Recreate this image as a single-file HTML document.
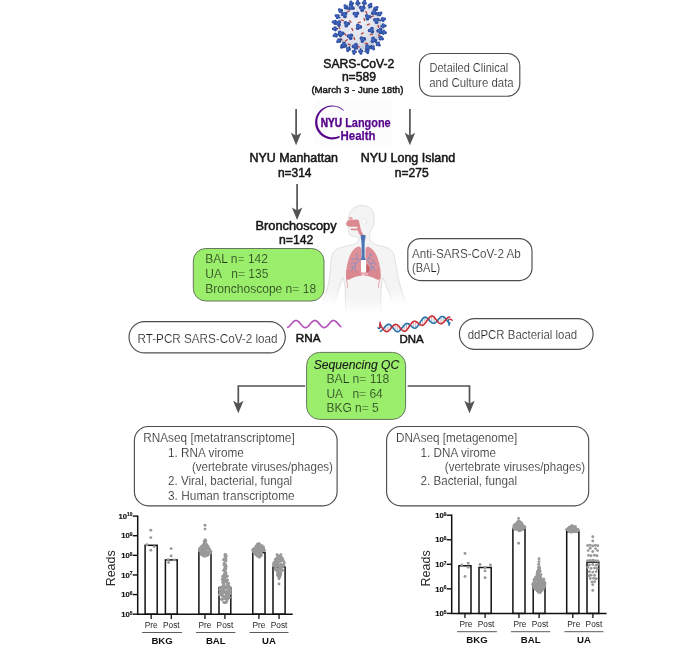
<!DOCTYPE html>
<html lang="en"><head><meta charset="utf-8"><title>Study design</title>
<style>html,body{margin:0;padding:0;background:#fff}body{width:700px;height:650px;overflow:hidden}svg{display:block;will-change:transform}text{white-space:pre}</style>
</head><body>
<svg width="700" height="650" viewBox="0 0 700 650" font-family='"Liberation Sans", sans-serif'>
<rect width="700" height="650" fill="#fff"/>
<g>
<defs><radialGradient id="vg" cx="42%" cy="38%" r="70%"><stop offset="0" stop-color="#f0f1f7"/><stop offset="0.6" stop-color="#dfe2ec"/><stop offset="1" stop-color="#bcc2d4"/></radialGradient></defs>
<circle cx="359.3" cy="27.4" r="22.8" fill="url(#vg)"/>
<rect x="346.6" y="10.75" width="3.4" height="1.3" rx="0.6" fill="#b4463e" transform="rotate(-30 348.3 11.4)"/>
<rect x="354.6" y="14.75" width="3.4" height="1.3" rx="0.6" fill="#b4463e" transform="rotate(40 356.3 15.4)"/>
<rect x="364.6" y="11.75" width="3.4" height="1.3" rx="0.6" fill="#b4463e" transform="rotate(60 366.3 12.4)"/>
<rect x="370.6" y="15.75" width="3.4" height="1.3" rx="0.6" fill="#b4463e" transform="rotate(-25 372.3 16.4)"/>
<rect x="340.6" y="19.75" width="3.4" height="1.3" rx="0.6" fill="#b4463e" transform="rotate(10 342.3 20.4)"/>
<rect x="348.6" y="20.75" width="3.4" height="1.3" rx="0.6" fill="#b4463e" transform="rotate(45 350.3 21.4)"/>
<rect x="357.6" y="21.75" width="3.4" height="1.3" rx="0.6" fill="#b4463e" transform="rotate(-10 359.3 22.4)"/>
<rect x="366.6" y="23.75" width="3.4" height="1.3" rx="0.6" fill="#b4463e" transform="rotate(-20 368.3 24.4)"/>
<rect x="376.6" y="25.75" width="3.4" height="1.3" rx="0.6" fill="#b4463e" transform="rotate(80 378.3 26.4)"/>
<rect x="337.6" y="26.75" width="3.4" height="1.3" rx="0.6" fill="#b4463e" transform="rotate(70 339.3 27.4)"/>
<rect x="350.6" y="28.75" width="3.4" height="1.3" rx="0.6" fill="#b4463e" transform="rotate(60 352.3 29.4)"/>
<rect x="360.6" y="32.75" width="3.4" height="1.3" rx="0.6" fill="#b4463e" transform="rotate(-30 362.3 33.4)"/>
<rect x="369.6" y="33.75" width="3.4" height="1.3" rx="0.6" fill="#b4463e" transform="rotate(-10 371.3 34.4)"/>
<rect x="343.6" y="33.75" width="3.4" height="1.3" rx="0.6" fill="#b4463e" transform="rotate(50 345.3 34.4)"/>
<rect x="352.6" y="37.75" width="3.4" height="1.3" rx="0.6" fill="#b4463e" transform="rotate(75 354.3 38.4)"/>
<rect x="364.6" y="42.75" width="3.4" height="1.3" rx="0.6" fill="#b4463e" transform="rotate(0 366.3 43.4)"/>
<rect x="347.6" y="43.75" width="3.4" height="1.3" rx="0.6" fill="#b4463e" transform="rotate(20 349.3 44.4)"/>
<rect x="356.6" y="45.75" width="3.4" height="1.3" rx="0.6" fill="#b4463e" transform="rotate(35 358.3 46.4)"/>
<rect x="373.6" y="40.75" width="3.4" height="1.3" rx="0.6" fill="#b4463e" transform="rotate(60 375.3 41.4)"/>
<rect x="339.6" y="38.75" width="3.4" height="1.3" rx="0.6" fill="#b4463e" transform="rotate(40 341.3 39.4)"/>
<rect x="359.6" y="7.75" width="3.4" height="1.3" rx="0.6" fill="#b4463e" transform="rotate(20 361.3 8.4)"/>
<rect x="373.6" y="18.75" width="3.4" height="1.3" rx="0.6" fill="#b4463e" transform="rotate(-30 375.3 19.4)"/>
<rect x="351.6" y="7.75" width="3.4" height="1.3" rx="0.6" fill="#b4463e" transform="rotate(10 353.3 8.4)"/>
<rect x="377.6" y="34.75" width="3.4" height="1.3" rx="0.6" fill="#b4463e" transform="rotate(50 379.3 35.4)"/>
<rect x="344.6" y="39.75" width="3.4" height="1.3" rx="0.6" fill="#b4463e" transform="rotate(-40 346.3 40.4)"/>
<rect x="362.6" y="18.75" width="3.4" height="1.3" rx="0.6" fill="#b4463e" transform="rotate(70 364.3 19.4)"/>
<path d="M357.99 5.64L357.82 2.74" stroke="#2b4690" stroke-width="1.6" stroke-linecap="round"/>
<circle cx="357.74" cy="1.41" r="1.46" fill="#2f4f9f"/>
<circle cx="359.01" cy="3.34" r="1.46" fill="#2f4f9f"/>
<circle cx="356.71" cy="3.48" r="1.46" fill="#2f4f9f"/>
<circle cx="357.52" cy="2.39" r="1.46" fill="#3f63b8"/>
<path d="M363.67 6.04L364.39 2.52" stroke="#2b4690" stroke-width="1.6" stroke-linecap="round"/>
<circle cx="364.66" cy="1.21" r="1.46" fill="#2f4f9f"/>
<circle cx="365.39" cy="3.4" r="1.46" fill="#2f4f9f"/>
<circle cx="363.13" cy="2.94" r="1.46" fill="#2f4f9f"/>
<circle cx="364.09" cy="2.17" r="1.46" fill="#3f63b8"/>
<path d="M369.05 7.9L370.35 5.31" stroke="#2b4690" stroke-width="1.6" stroke-linecap="round"/>
<circle cx="370.94" cy="4.11" r="1.46" fill="#2f4f9f"/>
<circle cx="371.08" cy="6.42" r="1.46" fill="#2f4f9f"/>
<circle cx="369.01" cy="5.39" r="1.46" fill="#2f4f9f"/>
<circle cx="370.05" cy="4.96" r="1.46" fill="#3f63b8"/>
<path d="M373.76 11.09L376.15 8.39" stroke="#2b4690" stroke-width="1.6" stroke-linecap="round"/>
<circle cx="377.04" cy="7.4" r="1.46" fill="#2f4f9f"/>
<circle cx="376.57" cy="9.66" r="1.46" fill="#2f4f9f"/>
<circle cx="374.85" cy="8.13" r="1.46" fill="#2f4f9f"/>
<circle cx="375.85" cy="8.04" r="1.46" fill="#3f63b8"/>
<path d="M377.49 15.39L379.91 13.79" stroke="#2b4690" stroke-width="1.6" stroke-linecap="round"/>
<circle cx="381.02" cy="13.06" r="1.46" fill="#2f4f9f"/>
<circle cx="379.99" cy="15.12" r="1.46" fill="#2f4f9f"/>
<circle cx="378.72" cy="13.19" r="1.46" fill="#2f4f9f"/>
<circle cx="379.61" cy="13.44" r="1.46" fill="#3f63b8"/>
<path d="M379.98 20.51L383.4 19.37" stroke="#2b4690" stroke-width="1.6" stroke-linecap="round"/>
<circle cx="384.66" cy="18.95" r="1.46" fill="#2f4f9f"/>
<circle cx="383.13" cy="20.67" r="1.46" fill="#2f4f9f"/>
<circle cx="382.4" cy="18.48" r="1.46" fill="#2f4f9f"/>
<circle cx="383.1" cy="19.02" r="1.46" fill="#3f63b8"/>
<path d="M381.06 26.09L383.96 25.92" stroke="#2b4690" stroke-width="1.6" stroke-linecap="round"/>
<circle cx="385.29" cy="25.84" r="1.46" fill="#2f4f9f"/>
<circle cx="383.36" cy="27.11" r="1.46" fill="#2f4f9f"/>
<circle cx="383.22" cy="24.81" r="1.46" fill="#2f4f9f"/>
<circle cx="383.66" cy="25.57" r="1.46" fill="#3f63b8"/>
<path d="M380.66 31.77L384.18 32.49" stroke="#2b4690" stroke-width="1.6" stroke-linecap="round"/>
<circle cx="385.49" cy="32.76" r="1.46" fill="#2f4f9f"/>
<circle cx="383.3" cy="33.49" r="1.46" fill="#2f4f9f"/>
<circle cx="383.76" cy="31.23" r="1.46" fill="#2f4f9f"/>
<circle cx="383.88" cy="32.14" r="1.46" fill="#3f63b8"/>
<path d="M378.8 37.15L381.39 38.45" stroke="#2b4690" stroke-width="1.6" stroke-linecap="round"/>
<circle cx="382.59" cy="39.04" r="1.46" fill="#2f4f9f"/>
<circle cx="380.28" cy="39.18" r="1.46" fill="#2f4f9f"/>
<circle cx="381.31" cy="37.11" r="1.46" fill="#2f4f9f"/>
<circle cx="381.09" cy="38.1" r="1.46" fill="#3f63b8"/>
<path d="M375.61 41.86L378.31 44.25" stroke="#2b4690" stroke-width="1.6" stroke-linecap="round"/>
<circle cx="379.3" cy="45.14" r="1.46" fill="#2f4f9f"/>
<circle cx="377.04" cy="44.67" r="1.46" fill="#2f4f9f"/>
<circle cx="378.57" cy="42.95" r="1.46" fill="#2f4f9f"/>
<circle cx="378.01" cy="43.9" r="1.46" fill="#3f63b8"/>
<path d="M371.31 45.59L372.91 48.01" stroke="#2b4690" stroke-width="1.6" stroke-linecap="round"/>
<circle cx="373.64" cy="49.12" r="1.46" fill="#2f4f9f"/>
<circle cx="371.58" cy="48.09" r="1.46" fill="#2f4f9f"/>
<circle cx="373.51" cy="46.82" r="1.46" fill="#2f4f9f"/>
<circle cx="372.61" cy="47.66" r="1.46" fill="#3f63b8"/>
<path d="M366.19 48.08L367.33 51.5" stroke="#2b4690" stroke-width="1.6" stroke-linecap="round"/>
<circle cx="367.75" cy="52.76" r="1.46" fill="#2f4f9f"/>
<circle cx="366.03" cy="51.23" r="1.46" fill="#2f4f9f"/>
<circle cx="368.22" cy="50.5" r="1.46" fill="#2f4f9f"/>
<circle cx="367.03" cy="51.15" r="1.46" fill="#3f63b8"/>
<path d="M360.61 49.16L360.78 52.06" stroke="#2b4690" stroke-width="1.6" stroke-linecap="round"/>
<circle cx="360.86" cy="53.39" r="1.46" fill="#2f4f9f"/>
<circle cx="359.59" cy="51.46" r="1.46" fill="#2f4f9f"/>
<circle cx="361.89" cy="51.32" r="1.46" fill="#2f4f9f"/>
<circle cx="360.48" cy="51.71" r="1.46" fill="#3f63b8"/>
<path d="M354.93 48.76L354.21 52.28" stroke="#2b4690" stroke-width="1.6" stroke-linecap="round"/>
<circle cx="353.94" cy="53.59" r="1.46" fill="#2f4f9f"/>
<circle cx="353.21" cy="51.4" r="1.46" fill="#2f4f9f"/>
<circle cx="355.47" cy="51.86" r="1.46" fill="#2f4f9f"/>
<circle cx="353.91" cy="51.93" r="1.46" fill="#3f63b8"/>
<path d="M349.55 46.9L348.25 49.49" stroke="#2b4690" stroke-width="1.6" stroke-linecap="round"/>
<circle cx="347.66" cy="50.69" r="1.46" fill="#2f4f9f"/>
<circle cx="347.52" cy="48.38" r="1.46" fill="#2f4f9f"/>
<circle cx="349.59" cy="49.41" r="1.46" fill="#2f4f9f"/>
<circle cx="347.95" cy="49.14" r="1.46" fill="#3f63b8"/>
<path d="M344.84 43.71L342.45 46.41" stroke="#2b4690" stroke-width="1.6" stroke-linecap="round"/>
<circle cx="341.56" cy="47.4" r="1.46" fill="#2f4f9f"/>
<circle cx="342.03" cy="45.14" r="1.46" fill="#2f4f9f"/>
<circle cx="343.75" cy="46.67" r="1.46" fill="#2f4f9f"/>
<circle cx="342.15" cy="46.06" r="1.46" fill="#3f63b8"/>
<path d="M341.11 39.41L338.69 41.01" stroke="#2b4690" stroke-width="1.6" stroke-linecap="round"/>
<circle cx="337.58" cy="41.74" r="1.46" fill="#2f4f9f"/>
<circle cx="338.61" cy="39.68" r="1.46" fill="#2f4f9f"/>
<circle cx="339.88" cy="41.61" r="1.46" fill="#2f4f9f"/>
<circle cx="338.39" cy="40.66" r="1.46" fill="#3f63b8"/>
<path d="M338.62 34.29L335.2 35.43" stroke="#2b4690" stroke-width="1.6" stroke-linecap="round"/>
<circle cx="333.94" cy="35.85" r="1.46" fill="#2f4f9f"/>
<circle cx="335.47" cy="34.13" r="1.46" fill="#2f4f9f"/>
<circle cx="336.2" cy="36.32" r="1.46" fill="#2f4f9f"/>
<circle cx="334.9" cy="35.08" r="1.46" fill="#3f63b8"/>
<path d="M337.54 28.71L334.64 28.88" stroke="#2b4690" stroke-width="1.6" stroke-linecap="round"/>
<circle cx="333.31" cy="28.96" r="1.46" fill="#2f4f9f"/>
<circle cx="335.24" cy="27.69" r="1.46" fill="#2f4f9f"/>
<circle cx="335.38" cy="29.99" r="1.46" fill="#2f4f9f"/>
<circle cx="334.34" cy="28.53" r="1.46" fill="#3f63b8"/>
<path d="M337.94 23.03L334.42 22.31" stroke="#2b4690" stroke-width="1.6" stroke-linecap="round"/>
<circle cx="333.11" cy="22.04" r="1.46" fill="#2f4f9f"/>
<circle cx="335.3" cy="21.31" r="1.46" fill="#2f4f9f"/>
<circle cx="334.84" cy="23.57" r="1.46" fill="#2f4f9f"/>
<circle cx="334.12" cy="21.96" r="1.46" fill="#3f63b8"/>
<path d="M339.8 17.65L337.21 16.35" stroke="#2b4690" stroke-width="1.6" stroke-linecap="round"/>
<circle cx="336.01" cy="15.76" r="1.46" fill="#2f4f9f"/>
<circle cx="338.32" cy="15.62" r="1.46" fill="#2f4f9f"/>
<circle cx="337.29" cy="17.69" r="1.46" fill="#2f4f9f"/>
<circle cx="336.91" cy="16" r="1.46" fill="#3f63b8"/>
<path d="M342.99 12.94L340.29 10.55" stroke="#2b4690" stroke-width="1.6" stroke-linecap="round"/>
<circle cx="339.3" cy="9.66" r="1.46" fill="#2f4f9f"/>
<circle cx="341.56" cy="10.13" r="1.46" fill="#2f4f9f"/>
<circle cx="340.03" cy="11.85" r="1.46" fill="#2f4f9f"/>
<circle cx="339.99" cy="10.2" r="1.46" fill="#3f63b8"/>
<path d="M347.29 9.21L345.69 6.79" stroke="#2b4690" stroke-width="1.6" stroke-linecap="round"/>
<circle cx="344.96" cy="5.68" r="1.46" fill="#2f4f9f"/>
<circle cx="347.02" cy="6.71" r="1.46" fill="#2f4f9f"/>
<circle cx="345.09" cy="7.98" r="1.46" fill="#2f4f9f"/>
<circle cx="345.39" cy="6.44" r="1.46" fill="#3f63b8"/>
<path d="M352.41 6.72L351.27 3.3" stroke="#2b4690" stroke-width="1.6" stroke-linecap="round"/>
<circle cx="350.85" cy="2.04" r="1.46" fill="#2f4f9f"/>
<circle cx="352.57" cy="3.57" r="1.46" fill="#2f4f9f"/>
<circle cx="350.38" cy="4.3" r="1.46" fill="#2f4f9f"/>
<circle cx="350.97" cy="2.95" r="1.46" fill="#3f63b8"/>
<circle cx="344.94" cy="16.42" r="1.87" fill="#2f4f9f"/>
<circle cx="342.73" cy="14.46" r="1.87" fill="#2f4f9f"/>
<circle cx="345.53" cy="13.52" r="1.87" fill="#2f4f9f"/>
<circle cx="344.1" cy="14.45" r="1.87" fill="#3f63b8"/>
<circle cx="356.05" cy="16" r="1.87" fill="#2f4f9f"/>
<circle cx="354.35" cy="13.58" r="1.87" fill="#2f4f9f"/>
<circle cx="357.3" cy="13.32" r="1.87" fill="#2f4f9f"/>
<circle cx="355.6" cy="13.95" r="1.87" fill="#3f63b8"/>
<circle cx="362.17" cy="10.2" r="1.87" fill="#2f4f9f"/>
<circle cx="360.74" cy="7.62" r="1.87" fill="#2f4f9f"/>
<circle cx="363.69" cy="7.68" r="1.87" fill="#2f4f9f"/>
<circle cx="361.9" cy="8.15" r="1.87" fill="#3f63b8"/>
<circle cx="367.37" cy="18.72" r="1.87" fill="#2f4f9f"/>
<circle cx="366.76" cy="15.83" r="1.87" fill="#2f4f9f"/>
<circle cx="369.57" cy="16.75" r="1.87" fill="#2f4f9f"/>
<circle cx="367.6" cy="16.75" r="1.87" fill="#3f63b8"/>
<circle cx="376.55" cy="22.2" r="1.87" fill="#2f4f9f"/>
<circle cx="374.85" cy="19.79" r="1.87" fill="#2f4f9f"/>
<circle cx="377.79" cy="19.52" r="1.87" fill="#2f4f9f"/>
<circle cx="376.1" cy="20.15" r="1.87" fill="#3f63b8"/>
<circle cx="346.24" cy="25.64" r="1.87" fill="#2f4f9f"/>
<circle cx="345.51" cy="22.78" r="1.87" fill="#2f4f9f"/>
<circle cx="348.35" cy="23.58" r="1.87" fill="#2f4f9f"/>
<circle cx="346.4" cy="23.65" r="1.87" fill="#3f63b8"/>
<circle cx="360.4" cy="26.9" r="1.87" fill="#2f4f9f"/>
<circle cx="357.76" cy="28.22" r="1.87" fill="#2f4f9f"/>
<circle cx="357.93" cy="25.28" r="1.87" fill="#2f4f9f"/>
<circle cx="358.4" cy="26.45" r="1.87" fill="#3f63b8"/>
<circle cx="372.32" cy="31.67" r="1.87" fill="#2f4f9f"/>
<circle cx="369.61" cy="30.5" r="1.87" fill="#2f4f9f"/>
<circle cx="371.98" cy="28.73" r="1.87" fill="#2f4f9f"/>
<circle cx="371" cy="29.95" r="1.87" fill="#3f63b8"/>
<circle cx="340.47" cy="35.32" r="1.87" fill="#2f4f9f"/>
<circle cx="339.86" cy="32.43" r="1.87" fill="#2f4f9f"/>
<circle cx="342.67" cy="33.35" r="1.87" fill="#2f4f9f"/>
<circle cx="340.7" cy="33.35" r="1.87" fill="#3f63b8"/>
<circle cx="350.66" cy="38.14" r="1.87" fill="#2f4f9f"/>
<circle cx="348.55" cy="36.08" r="1.87" fill="#2f4f9f"/>
<circle cx="351.39" cy="35.28" r="1.87" fill="#2f4f9f"/>
<circle cx="349.9" cy="36.15" r="1.87" fill="#3f63b8"/>
<circle cx="362.31" cy="41.06" r="1.87" fill="#2f4f9f"/>
<circle cx="361.46" cy="38.23" r="1.87" fill="#2f4f9f"/>
<circle cx="364.33" cy="38.91" r="1.87" fill="#2f4f9f"/>
<circle cx="362.4" cy="39.05" r="1.87" fill="#3f63b8"/>
<circle cx="375.26" cy="40.38" r="1.87" fill="#2f4f9f"/>
<circle cx="372.44" cy="41.25" r="1.87" fill="#2f4f9f"/>
<circle cx="373.1" cy="38.37" r="1.87" fill="#2f4f9f"/>
<circle cx="373.3" cy="39.65" r="1.87" fill="#3f63b8"/>
<circle cx="356.31" cy="47.68" r="1.87" fill="#2f4f9f"/>
<circle cx="353.61" cy="46.49" r="1.87" fill="#2f4f9f"/>
<circle cx="355.99" cy="44.74" r="1.87" fill="#2f4f9f"/>
<circle cx="355" cy="45.95" r="1.87" fill="#3f63b8"/>
<circle cx="345.4" cy="45.81" r="1.87" fill="#2f4f9f"/>
<circle cx="342.45" cy="45.9" r="1.87" fill="#2f4f9f"/>
<circle cx="343.85" cy="43.3" r="1.87" fill="#2f4f9f"/>
<circle cx="343.6" cy="44.65" r="1.87" fill="#3f63b8"/>
<circle cx="380.59" cy="32.41" r="1.87" fill="#2f4f9f"/>
<circle cx="378.1" cy="30.83" r="1.87" fill="#2f4f9f"/>
<circle cx="380.71" cy="29.46" r="1.87" fill="#2f4f9f"/>
<circle cx="379.5" cy="30.55" r="1.87" fill="#3f63b8"/>
<circle cx="339" cy="24.95" r="1.87" fill="#2f4f9f"/>
<circle cx="336.6" cy="23.23" r="1.87" fill="#2f4f9f"/>
<circle cx="339.3" cy="22.02" r="1.87" fill="#2f4f9f"/>
<circle cx="338" cy="23.05" r="1.87" fill="#3f63b8"/>
<circle cx="369.5" cy="47.44" r="1.87" fill="#2f4f9f"/>
<circle cx="366.91" cy="48.85" r="1.87" fill="#2f4f9f"/>
<circle cx="366.99" cy="45.9" r="1.87" fill="#2f4f9f"/>
<circle cx="367.5" cy="47.05" r="1.87" fill="#3f63b8"/>
<circle cx="352.85" cy="8.12" r="1.87" fill="#2f4f9f"/>
<circle cx="349.91" cy="8.38" r="1.87" fill="#2f4f9f"/>
<circle cx="351.15" cy="5.7" r="1.87" fill="#2f4f9f"/>
<circle cx="351" cy="7.05" r="1.87" fill="#3f63b8"/>
<circle cx="375.75" cy="13.3" r="1.87" fill="#2f4f9f"/>
<circle cx="372.79" cy="13.2" r="1.87" fill="#2f4f9f"/>
<circle cx="374.36" cy="10.7" r="1.87" fill="#2f4f9f"/>
<circle cx="374" cy="12.05" r="1.87" fill="#3f63b8"/>
</g>
<text x="358.8" y="68" font-size="12" text-anchor="middle" textLength="71" lengthAdjust="spacingAndGlyphs" fill="#161616" stroke="#161616" stroke-width="0.5" stroke-linejoin="round">SARS-CoV-2</text>
<text x="358.9" y="81.4" font-size="12" text-anchor="middle" textLength="34" lengthAdjust="spacingAndGlyphs" fill="#161616" stroke="#161616" stroke-width="0.5" stroke-linejoin="round">n=589</text>
<text x="357.4" y="93.2" font-size="9.3" text-anchor="middle" textLength="92" lengthAdjust="spacingAndGlyphs" fill="#161616" stroke="#161616" stroke-width="0.45" stroke-linejoin="round">(March 3 - June 18th)</text>
<rect x="419.5" y="53.5" width="100.3" height="42.7" rx="12.5" ry="12.5" fill="#fff" stroke="#4d4d4d" stroke-width="1.15"/>
<text x="429.6" y="72.3" font-size="12" textLength="78.6" lengthAdjust="spacingAndGlyphs" fill="#202020" stroke="#fff" stroke-width="0.2">Detailed Clinical</text>
<text x="429.2" y="87" font-size="12" textLength="84.5" lengthAdjust="spacingAndGlyphs" fill="#202020" stroke="#fff" stroke-width="0.2">and Culture data</text>
<path d="M296.1 109V137.3" stroke="#535353" stroke-width="1.7" fill="none"/>
<path d="M290.9 132.8L296.1 135.8L301.3 132.8L296.1 145.3Z" fill="#535353"/>
<path d="M409.9 109V137.3" stroke="#535353" stroke-width="1.7" fill="none"/>
<path d="M404.7 132.8L409.9 135.8L415.1 132.8L409.9 145.3Z" fill="#535353"/>
<rect x="314.600" y="100" width="77.200" height="44.800" fill="#fcfcfd"/>
<path d="M343.900 110.200A17 17 0 1 0 339.550 137.700L339.450 135.750A15.400 15.400 0 1 1 343.400 110.800Z" fill="#57068c"/>
<text x="320.800" y="126.600" font-size="12.800" font-weight="bold" fill="#57068c" stroke="#57068c" stroke-width="0.550" textLength="21.300" lengthAdjust="spacingAndGlyphs">NYU</text>
<text x="345.200" y="126.600" font-size="12.800" font-weight="bold" fill="#57068c" stroke="#57068c" stroke-width="0.250" textLength="45.500" lengthAdjust="spacingAndGlyphs">Langone</text>
<text x="340.600" y="140" font-size="12.800" font-weight="bold" fill="#57068c" stroke="#57068c" stroke-width="0.250" textLength="35" lengthAdjust="spacingAndGlyphs">Health</text>
<text x="293.7" y="162" font-size="12" text-anchor="middle" textLength="88.6" lengthAdjust="spacingAndGlyphs" fill="#161616" stroke="#161616" stroke-width="0.5" stroke-linejoin="round">NYU Manhattan</text>
<text x="294.7" y="176.8" font-size="12" text-anchor="middle" textLength="33.6" lengthAdjust="spacingAndGlyphs" fill="#161616" stroke="#161616" stroke-width="0.5" stroke-linejoin="round">n=314</text>
<text x="407.9" y="162" font-size="12" text-anchor="middle" textLength="94.5" lengthAdjust="spacingAndGlyphs" fill="#161616" stroke="#161616" stroke-width="0.5" stroke-linejoin="round">NYU Long Island</text>
<text x="411.7" y="176.8" font-size="12" text-anchor="middle" textLength="34" lengthAdjust="spacingAndGlyphs" fill="#161616" stroke="#161616" stroke-width="0.5" stroke-linejoin="round">n=275</text>
<path d="M297.1 184V211.9" stroke="#535353" stroke-width="1.7" fill="none"/>
<path d="M291.9 207.4L297.1 210.4L302.3 207.4L297.1 219.9Z" fill="#535353"/>
<g>
<defs><linearGradient id="hf" x1="0" y1="0" x2="0" y2="1"><stop offset="0" stop-color="#fff" stop-opacity="0"/><stop offset="0.8" stop-color="#fff" stop-opacity="1"/><stop offset="1" stop-color="#fff" stop-opacity="1"/></linearGradient></defs>
<path d="M362 205.5C366 205.5 370.5 207 372.8 211.5C374.6 215 374.6 221 373.4 225C372.4 228.5 370.5 230.5 369.8 233.5C369.3 236.5 369.5 239.5 371 241.5C372.5 243.5 376 245 382 246.3C388 247.6 392 249.500 393.6 254C395 259 396.5 268 398 277C399.5 284 402 292 404.6 298.5L407.3 309L394.3 309C391 298 388 291 385.5 284L382.6 277.5C381.6 282 381 288 381 294L381 317L345.4 317L345.4 294C345.4 288 344.6 282 343 277.5L340.5 284C338.5 290 336 298 332.5 309L319.5 309C324.5 297 327.5 289 328.8 282C330 274 330.6 266 331.3 259C332 253 334.5 249.500 340 247.8C346 246 352 245.2 355.5 243.8C358 242.8 358.8 240.5 358.9 238C356.5 236.2 354 236.4 351.5 236C349.5 235.6 348.8 234.5 348.9 232.5L348.6 229.5C348.7 228.5 348.9 227.8 348.5 227C347.5 226 346 225 346.1 224C346.3 223 348 220.5 348.4 218.5C348.8 214 350.5 210.5 353.5 208.2C356 206.3 359 205.5 362 205.5Z" fill="#f4f4f5" stroke="#d6d6d8" stroke-width="0.7" stroke-linejoin="round"/>
<rect x="316" y="289" width="28.800" height="20" fill="url(#hf)"/>
<rect x="381.600" y="289" width="29" height="20" fill="url(#hf)"/>
<rect x="316" y="305" width="28.800" height="6" fill="#fff"/>
<rect x="381.600" y="305" width="29" height="6" fill="#fff"/>
<rect x="344.600" y="298" width="37.200" height="19" fill="url(#hf)"/>
<rect x="344.600" y="313" width="37.200" height="6" fill="#fff"/>
<path d="M363.200 219.300c1.700-1.300 3.500-0.200 3.300 2.200c-0.200 2.300-1.500 3.900-2.900 3.600" stroke="#d9d9db" stroke-width="0.7" fill="#f9f9f9"/>
<path d="M347 222.300C347.500 220.400 349 219.500 351 219.500L355.800 219.700C357.500 219.100 358.700 219.700 359 221C359.600 223.500 360.100 226 360.600 228.500C361.100 231 362.100 233 363.900 235.200L360.200 235.200C358.800 233.600 358 231.600 357.600 230.300C355.500 230.500 353 230.400 350.800 230.100C350.200 229.500 350.400 228.700 351.200 228.500L357.400 228.500L357.400 226.700L350 226.800C348 226.800 346.200 225.400 346.200 224C346.200 223.300 346.500 222.800 347 222.300Z" fill="#db8a92"/>
<path d="M349.200 217.600c0.800-0.700 2.300-0.700 3.200 0c0.300 0.700 0 1.400-0.600 1.700h-2.300c-0.600-0.500-0.700-1.200-0.300-1.700z" fill="#e29aa0"/>
<path d="M357.600 246.700c-3.200 1.200-5.900 4.600-7.700 8.800c-1.600 3.800-2.700 8.400-3.300 12.600c-0.500 3.700-0.800 7.400-0.500 10.200c0.200 1.300 1.300 1.500 3 1.200c3.800-2.500 8-3.600 12.200-3.800v-24.900c0-3-1.200-4.900-3.700-4.100z" fill="#dd9097"/>
<path d="M368.400 246.700c3.300 1.200 6.200 4.600 8.200 8.800c1.700 3.800 2.900 8.400 3.600 12.600c0.500 3.700 0.800 7.400 0.500 10.200c-0.200 1.300-1.300 1.500-3 1.200c-3.800-2.500-8-3.600-12.200-3.800v-24.900c0-3 1.200-4.900 3.700-4.100z" fill="#dd9097"/>
<path d="M346.500 270c4.600-0.500 9.800 0.300 14.800 2.200v3.500c-4.200 0.200-8.400 1.300-12.200 3.800c-1.700 0.300-2.800 0.100-3-1.200c-0.300-2.300-0.200-5.300 0.400-8.300z" fill="#da878f"/>
<path d="M379.500 270c-4.600-0.500-9.800 0.300-14.800 2.200v3.500c4.200 0.200 8.400 1.300 12.200 3.800c1.700 0.300 2.800 0.100 3-1.200c0.300-2.300 0.200-5.300-0.400-8.300z" fill="#da878f"/>
<path d="M360.800 271.800h7.200v3.700c-2.400-0.400-4.800-0.400-7.200 0z" fill="#e9aeb3"/>
<path d="M346.300 279.300c0.900 3 1.200 5.500 1.200 8.400" stroke="#e9a9ae" stroke-width="1.100" fill="none" stroke-linecap="round"/>
<path d="M379.700 279.300c-0.900 3-1.200 5.500-1.200 8.400" stroke="#e9a9ae" stroke-width="1.100" fill="none" stroke-linecap="round"/>
<path d="M361.100 259.800h5.100v10.800c0 1.300-1.100 2-2.600 2c-1.400 0-2.500-0.700-2.500-2z" fill="#fdfdfd"/>
<path d="M366.300 264.200c2 0.400 3.300 2.300 3.300 5.100c0 2.200-1.400 3.500-3.300 3.500z" fill="#c8626c"/>
<path d="M360.700 235h4.800v2.500c-0.700 2.500-0.900 5-0.900 8v10.500c0 1.500 0.400 2.700 0.900 3.900h-4.800c0.500-1.200 0.900-2.400 0.900-3.900v-10.500c0-3-0.200-5.500-0.900-8z" fill="#4c73b2"/>
<path d="M361.300 258.600l-3.700 3l-2.400 3.400l-2.800 4.200M358.600 260.800l-1.800-4.200l-0.600-3M357.400 258.300l-3.700 1.200l-1.700-0.600M356.500 263l-5 0.300l-1.400 1.400M355.200 265l-4 2.600M355 265.500l0.600 5.500M353.600 267.400l-2.200 3.400" stroke="#8a8cc0" stroke-width="0.85" fill="none" stroke-linecap="round" stroke-linejoin="round"/>
<path d="M364.900 258.600l3.700 3l2.400 3.400l2.800 4.200M367.600 260.800l1.800-4.200l1-3.600M368.800 258l3.800 1.400l2 2.600M369.700 263l5 0.300l1.400 1.400M371 265l4 2.600M371.200 265.500l-0.600 5.500M372.600 267.400l2.200 3.400M370.600 254.500l2 1.500" stroke="#8a8cc0" stroke-width="0.85" fill="none" stroke-linecap="round" stroke-linejoin="round"/>
</g>
<text x="296.1" y="229.7" font-size="12" text-anchor="middle" textLength="81" lengthAdjust="spacingAndGlyphs" fill="#161616" stroke="#161616" stroke-width="0.5" stroke-linejoin="round">Bronchoscopy</text>
<text x="296.2" y="243.9" font-size="12" text-anchor="middle" textLength="34.3" lengthAdjust="spacingAndGlyphs" fill="#161616" stroke="#161616" stroke-width="0.5" stroke-linejoin="round">n=142</text>
<rect x="193.3" y="248.5" width="130.7" height="52.5" rx="12.5" ry="12.5" fill="#9bee6c" stroke="#66755e" stroke-width="1"/>
<text x="205.3" y="263.1" font-size="12" textLength="62.6" lengthAdjust="spacingAndGlyphs" fill="#22381b" stroke="#9bee6c" stroke-width="0.2">BAL n= 142</text>
<text x="205.3" y="278.1" font-size="12" textLength="63" lengthAdjust="spacingAndGlyphs" fill="#22381b" stroke="#9bee6c" stroke-width="0.2">UA   n= 135</text>
<text x="205.3" y="293.1" font-size="12" textLength="110.8" lengthAdjust="spacingAndGlyphs" fill="#22381b" stroke="#9bee6c" stroke-width="0.2">Bronchoscope n= 18</text>
<rect x="407.8" y="238.6" width="124.2" height="42" rx="12.5" ry="12.5" fill="#fff" stroke="#4d4d4d" stroke-width="1.15"/>
<text x="412" y="257.6" font-size="12" textLength="108.8" lengthAdjust="spacingAndGlyphs" fill="#202020" stroke="#fff" stroke-width="0.2">Anti-SARS-CoV-2 Ab</text>
<text x="412" y="272.4" font-size="12" textLength="28.2" lengthAdjust="spacingAndGlyphs" fill="#202020" stroke="#fff" stroke-width="0.2">(BAL)</text>
<rect x="129" y="321.6" width="156.3" height="31.3" rx="15.6" ry="15.6" fill="#fff" stroke="#4d4d4d" stroke-width="1.15"/>
<text x="137.5" y="342.6" font-size="12" textLength="140" lengthAdjust="spacingAndGlyphs" fill="#202020" stroke="#fff" stroke-width="0.2">RT-PCR SARS-CoV-2 load</text>
<path d="M287.8 327.32L288.24 327.08L288.68 326.77L289.12 326.41L289.57 325.99L290.01 325.54L290.45 325.04L290.89 324.53L291.33 324.01L291.78 323.49L292.22 322.98L292.66 322.49L293.1 322.04L293.54 321.63L293.98 321.28L294.43 320.98L294.87 320.75L295.31 320.59L295.75 320.51L296.19 320.51L296.63 320.58L297.07 320.73L297.52 320.95L297.96 321.23L298.4 321.58L298.84 321.98L299.28 322.43L299.73 322.91L300.17 323.42L300.61 323.94L301.05 324.46L301.49 324.98L301.93 325.47L302.38 325.94L302.82 326.36L303.26 326.73L303.7 327.04L304.14 327.29L304.58 327.47L305.03 327.57L305.47 327.6L305.91 327.55L306.35 327.42L306.79 327.22L307.23 326.95L307.68 326.62L308.12 326.23L308.56 325.8L309 325.33L309.44 324.82L309.88 324.31L310.32 323.78L310.77 323.27L311.21 322.76L311.65 322.29L312.09 321.86L312.53 321.47L312.98 321.14L313.42 320.87L313.86 320.67L314.3 320.55L314.74 320.5L315.18 320.53L315.62 320.63L316.07 320.81L316.51 321.06L316.95 321.38L317.39 321.75L317.83 322.17L318.28 322.64L318.72 323.13L319.16 323.65L319.6 324.17L320.04 324.69L320.48 325.2L320.93 325.68L321.37 326.12L321.81 326.53L322.25 326.87L322.69 327.16L323.13 327.38L323.57 327.52L324.02 327.59L324.46 327.59L324.9 327.5L325.34 327.34L325.78 327.11L326.23 326.82L326.67 326.46L327.11 326.05L327.55 325.6L327.99 325.11L328.43 324.6L328.88 324.08L329.32 323.56L329.76 323.05L330.2 322.56L330.64 322.1L331.08 321.68L331.53 321.32L331.97 321.02L332.41 320.78L332.85 320.61L333.29 320.52L333.73 320.5L334.18 320.57L334.62 320.7L335.06 320.91L335.5 321.19L335.94 321.53L336.38 321.93L336.82 322.37L337.27 322.85L337.71 323.35L338.15 323.87L338.59 324.4L339.03 324.91L339.48 325.41L339.92 325.88L340.36 326.3L340.8 326.68" stroke="#b455bb" stroke-width="1.700" fill="none" stroke-linecap="round" stroke-linejoin="round"/>
<text x="308.1" y="342" font-size="11.4" text-anchor="middle" textLength="24.8" lengthAdjust="spacingAndGlyphs" fill="#161616" stroke="#161616" stroke-width="0.5" stroke-linejoin="round">RNA</text>
<path d="M385.8 326.42V328.62" stroke="#3f7fb5" stroke-width="0.55"/>
<path d="M385.8 328.62V330.81" stroke="#d0474c" stroke-width="0.55"/>
<path d="M388.1 324.9V327.75" stroke="#3f7fb5" stroke-width="0.55"/>
<path d="M388.1 327.75V330.61" stroke="#d0474c" stroke-width="0.55"/>
<path d="M390.4 325.59V327" stroke="#3f7fb5" stroke-width="0.55"/>
<path d="M390.4 327V328.41" stroke="#d0474c" stroke-width="0.55"/>
<path d="M395 325.09V327.42" stroke="#d0474c" stroke-width="0.55"/>
<path d="M395 327.42V329.76" stroke="#3f7fb5" stroke-width="0.55"/>
<path d="M397.3 325.49V328.3" stroke="#d0474c" stroke-width="0.55"/>
<path d="M397.3 328.3V331.11" stroke="#3f7fb5" stroke-width="0.55"/>
<path d="M399.6 327.73V328.93" stroke="#d0474c" stroke-width="0.55"/>
<path d="M399.6 328.93V330.13" stroke="#3f7fb5" stroke-width="0.55"/>
<path d="M404.2 325.77V328.23" stroke="#3f7fb5" stroke-width="0.55"/>
<path d="M404.2 328.23V330.69" stroke="#d0474c" stroke-width="0.55"/>
<path d="M406.5 324.14V326.89" stroke="#3f7fb5" stroke-width="0.55"/>
<path d="M406.5 326.89V329.63" stroke="#d0474c" stroke-width="0.55"/>
<path d="M408.8 324.63V325.61" stroke="#3f7fb5" stroke-width="0.55"/>
<path d="M408.8 325.61V326.6" stroke="#d0474c" stroke-width="0.55"/>
<path d="M413.4 322.1V324.67" stroke="#d0474c" stroke-width="0.55"/>
<path d="M413.4 324.67V327.24" stroke="#3f7fb5" stroke-width="0.55"/>
<path d="M415.7 322.06V324.72" stroke="#d0474c" stroke-width="0.55"/>
<path d="M415.7 324.72V327.39" stroke="#3f7fb5" stroke-width="0.55"/>
<path d="M418 323.62V324.39" stroke="#d0474c" stroke-width="0.55"/>
<path d="M418 324.39V325.16" stroke="#3f7fb5" stroke-width="0.55"/>
<path d="M420.3 322.65V323.41" stroke="#3f7fb5" stroke-width="0.55"/>
<path d="M420.3 323.41V324.18" stroke="#d0474c" stroke-width="0.55"/>
<path d="M422.6 319.33V322" stroke="#3f7fb5" stroke-width="0.55"/>
<path d="M422.6 322V324.67" stroke="#d0474c" stroke-width="0.55"/>
<path d="M424.9 317.75V320.32" stroke="#3f7fb5" stroke-width="0.55"/>
<path d="M424.9 320.32V322.89" stroke="#d0474c" stroke-width="0.55"/>
<path d="M429.5 318.01V319" stroke="#d0474c" stroke-width="0.55"/>
<path d="M429.5 319V319.98" stroke="#3f7fb5" stroke-width="0.55"/>
<path d="M431.8 316.6V319.34" stroke="#d0474c" stroke-width="0.55"/>
<path d="M431.8 319.34V322.09" stroke="#3f7fb5" stroke-width="0.55"/>
<path d="M434.1 317.7V320.16" stroke="#d0474c" stroke-width="0.55"/>
<path d="M434.1 320.16V322.62" stroke="#3f7fb5" stroke-width="0.55"/>
<path d="M438.7 319.71V320.91" stroke="#3f7fb5" stroke-width="0.55"/>
<path d="M438.7 320.91V322.11" stroke="#d0474c" stroke-width="0.55"/>
<path d="M441 317.5V320.3" stroke="#3f7fb5" stroke-width="0.55"/>
<path d="M441 320.3V323.11" stroke="#d0474c" stroke-width="0.55"/>
<path d="M443.3 317.24V319.57" stroke="#3f7fb5" stroke-width="0.55"/>
<path d="M443.3 319.57V321.91" stroke="#d0474c" stroke-width="0.55"/>
<path d="M377.900 327.900C378.800 329 380 328.600 380.400 327.300" stroke="#2a71a8" stroke-width="1.400" fill="none" stroke-linecap="round"/>
<path d="M379.200 327.600L380.100 321.800L381.300 326.300" stroke="#c62f35" stroke-width="1.100" fill="none" stroke-linecap="round" stroke-linejoin="round"/>
<path d="M448.300 319.300L449 325.800L449.900 322.300" stroke="#2a71a8" stroke-width="1.100" fill="none" stroke-linecap="round" stroke-linejoin="round"/>
<path d="M449.600 319.600C450.600 318.800 451.600 319.400 452.200 320.500" stroke="#c62f35" stroke-width="1.400" fill="none" stroke-linecap="round"/>
<path d="M380.4 331.27L380.75 331.13L381.09 330.95L381.44 330.71L381.78 330.44L382.13 330.12L382.48 329.77L382.82 329.39L383.17 328.99L383.51 328.57L383.86 328.14L384.21 327.7L384.55 327.27L384.9 326.85L385.24 326.44L385.59 326.05L385.94 325.69L386.28 325.35L386.63 325.06L386.97 324.8L387.32 324.59L387.67 324.43L388.01 324.32L388.36 324.26L388.7 324.26L389.05 324.31L389.4 324.41L389.74 324.56L390.09 324.77L390.43 325.02L390.78 325.32L391.13 325.65L391.47 326.02L391.82 326.42L392.16 326.84L392.51 327.27L392.86 327.72L393.2 328.18L393.55 328.63L393.89 329.07L394.24 329.5L394.59 329.91L394.93 330.29L395.28 330.64L395.62 330.95L395.97 331.22L396.32 331.42L396.66 331.57L397.01 331.67L397.35 331.71L397.7 331.7L398.05 331.64L398.39 331.53L398.74 331.36L399.08 331.14L399.43 330.88L399.78 330.57L400.12 330.23L400.47 329.85L400.81 329.44L401.16 329.01L401.51 328.56L401.85 328.09L402.2 327.63L402.54 327.17L402.89 326.71L403.24 326.27L403.58 325.85L403.93 325.46L404.27 325.09L404.62 324.77L404.97 324.49L405.31 324.19L405.66 323.94L406 323.74L406.35 323.59L406.7 323.5L407.04 323.45L407.39 323.47L407.73 323.53L408.08 323.64L408.43 323.8L408.77 324.01L409.12 324.25L409.46 324.53L409.81 324.84L410.16 325.15L410.5 325.45L410.85 325.77L411.19 326.09L411.54 326.41L411.89 326.72L412.23 327.02L412.58 327.3L412.92 327.55L413.27 327.77L413.62 327.95L413.96 328.09L414.31 328.18L414.65 328.22L415 328.22L415.35 328.13L415.69 327.99L416.04 327.8L416.38 327.55L416.73 327.25L417.08 326.91L417.42 326.51L417.77 326.07L418.11 325.59L418.46 325.08L418.81 324.54L419.15 323.98L419.5 323.39L419.84 322.8L420.19 322.22L420.54 321.67L420.88 321.12L421.23 320.59L421.57 320.08L421.92 319.59L422.27 319.14L422.61 318.72L422.96 318.34L423.3 318.01L423.65 317.73L424 317.5L424.34 317.33L424.69 317.2L425.03 317.14L425.38 317.17L425.73 317.26L426.07 317.4L426.42 317.59L426.76 317.82L427.11 318.09L427.46 318.39L427.8 318.73L428.15 319.08L428.49 319.46L428.84 319.84L429.19 320.23L429.53 320.62L429.88 321L430.22 321.37L430.57 321.71L430.92 322.03L431.26 322.32L431.61 322.57L431.95 322.78L432.3 322.94L432.65 323.05L432.99 323.12L433.34 323.21L433.68 323.24L434.03 323.23L434.38 323.16L434.72 323.03L435.07 322.86L435.41 322.64L435.76 322.38L436.11 322.08L436.45 321.74L436.8 321.38L437.14 320.99L437.49 320.58L437.84 320.16L438.18 319.74L438.53 319.32L438.87 318.9L439.22 318.5L439.57 318.13L439.91 317.77L440.26 317.45L440.6 317.17L440.95 316.93L441.3 316.73L441.64 316.58L441.99 316.48L442.33 316.45L442.68 316.47L443.03 316.54L443.37 316.67L443.72 316.85L444.06 317.08L444.41 317.36L444.76 317.67L445.1 318.03L445.45 318.43L445.79 318.85L446.14 319.3L446.49 319.76L446.83 320.24L447.18 320.72L447.52 321.2L447.87 321.67L448.22 322.13L448.56 322.56L448.91 322.97L449.25 323.35L449.6 323.69" stroke="#2a71a8" stroke-width="1.600" fill="none" stroke-linecap="round" stroke-linejoin="round"/>
<path d="M380.4 325.54L380.75 325.93L381.09 326.34L381.44 326.78L381.78 327.22L382.13 327.68L382.48 328.14L382.82 328.59L383.17 329.03L383.51 329.46L383.86 329.85L384.21 330.22L384.55 330.56L384.9 330.86L385.24 331.11L385.59 331.31L385.94 331.47L386.28 331.57L386.63 331.61L386.97 331.6L387.32 331.54L387.67 331.42L388.01 331.26L388.36 331.04L388.7 330.79L389.05 330.48L389.4 330.15L389.74 329.78L390.09 329.38L390.43 328.97L390.78 328.54L391.13 328.1L391.47 327.66L391.82 327.22L392.16 326.8L392.51 326.4L392.86 326.02L393.2 325.66L393.55 325.35L393.89 325.07L394.24 324.83L394.59 324.65L394.93 324.51L395.28 324.43L395.62 324.39L395.97 324.42L396.32 324.47L396.66 324.57L397.01 324.72L397.35 324.92L397.7 325.17L398.05 325.46L398.39 325.78L398.74 326.14L399.08 326.52L399.43 326.93L399.78 327.34L400.12 327.77L400.47 328.2L400.81 328.62L401.16 329.03L401.51 329.42L401.85 329.79L402.2 330.13L402.54 330.44L402.89 330.7L403.24 330.93L403.58 331.1L403.93 331.23L404.27 331.3L404.62 331.32L404.97 331.29L405.31 331.14L405.66 330.94L406 330.68L406.35 330.38L406.7 330.03L407.04 329.64L407.39 329.21L407.73 328.76L408.08 328.27L408.43 327.77L408.77 327.25L409.12 326.72L409.46 326.19L409.81 325.66L410.16 325.13L410.5 324.59L410.85 324.08L411.19 323.6L411.54 323.15L411.89 322.74L412.23 322.37L412.58 322.05L412.92 321.78L413.27 321.56L413.62 321.4L413.96 321.29L414.31 321.23L414.65 321.23L415 321.27L415.35 321.34L415.69 321.45L416.04 321.61L416.38 321.8L416.73 322.02L417.08 322.27L417.42 322.54L417.77 322.83L418.11 323.12L418.46 323.41L418.81 323.7L419.15 323.98L419.5 324.24L419.84 324.48L420.19 324.71L420.54 324.92L420.88 325.1L421.23 325.23L421.57 325.31L421.92 325.35L422.27 325.33L422.61 325.26L422.96 325.14L423.3 324.96L423.65 324.73L424 324.45L424.34 324.12L424.69 323.74L425.03 323.33L425.38 322.93L425.73 322.5L426.07 322.05L426.42 321.57L426.76 321.07L427.11 320.57L427.46 320.07L427.8 319.57L428.15 319.09L428.49 318.62L428.84 318.17L429.19 317.76L429.53 317.37L429.88 317.03L430.22 316.73L430.57 316.48L430.92 316.28L431.26 316.13L431.61 316.03L431.95 315.98L432.3 315.99L432.65 316.06L432.99 316.17L433.34 316.41L433.68 316.7L434.03 317.03L434.38 317.39L434.72 317.79L435.07 318.21L435.41 318.66L435.76 319.12L436.11 319.59L436.45 320.06L436.8 320.52L437.14 320.97L437.49 321.41L437.84 321.82L438.18 322.21L438.53 322.56L438.87 322.87L439.22 323.13L439.57 323.35L439.91 323.52L440.26 323.64L440.6 323.7L440.95 323.72L441.3 323.67L441.64 323.58L441.99 323.43L442.33 323.25L442.68 323.02L443.03 322.75L443.37 322.44L443.72 322.1L444.06 321.74L444.41 321.35L444.76 320.95L445.1 320.54L445.45 320.12L445.79 319.72L446.14 319.32L446.49 318.94L446.83 318.59L447.18 318.26L447.52 317.97L447.87 317.72L448.22 317.51L448.56 317.34L448.91 317.23L449.25 317.17L449.6 317.16" stroke="#c62f35" stroke-width="1.600" fill="none" stroke-linecap="round" stroke-linejoin="round"/>
<text x="411.5" y="342.7" font-size="11.4" text-anchor="middle" textLength="24.2" lengthAdjust="spacingAndGlyphs" fill="#161616" stroke="#161616" stroke-width="0.5" stroke-linejoin="round">DNA</text>
<rect x="459.4" y="318.6" width="133.7" height="30.8" rx="15.4" ry="15.4" fill="#fff" stroke="#4d4d4d" stroke-width="1.15"/>
<text x="467.7" y="338.6" font-size="12" textLength="109.5" lengthAdjust="spacingAndGlyphs" fill="#202020" stroke="#fff" stroke-width="0.2">ddPCR Bacterial load</text>
<path d="M305.2 386H238.3V405.3" stroke="#535353" stroke-width="1.7" fill="none" stroke-linejoin="miter"/>
<path d="M233.1 400.8L238.3 403.8L243.5 400.8L238.3 413.3Z" fill="#535353"/>
<path d="M407.7 386H469.5V405.3" stroke="#535353" stroke-width="1.7" fill="none" stroke-linejoin="miter"/>
<path d="M464.3 400.8L469.5 403.8L474.7 400.8L469.5 413.3Z" fill="#535353"/>
<rect x="306.6" y="352.4" width="99" height="67" rx="13" ry="13" fill="#9bee6c" stroke="#66755e" stroke-width="1"/>
<text x="356.5" y="368.9" font-size="12" font-style="italic" text-anchor="middle" textLength="85.6" lengthAdjust="spacingAndGlyphs" fill="#1a1a1a" stroke="#1a1a1a" stroke-width="0.12">Sequencing QC</text>
<text x="326.4" y="382.9" font-size="12" textLength="63" lengthAdjust="spacingAndGlyphs" fill="#22381b" stroke="#9bee6c" stroke-width="0.2">BAL n= 118</text>
<text x="326.4" y="397.7" font-size="12" fill="#22381b" stroke="#9bee6c" stroke-width="0.2">UA   n= 64</text>
<text x="326.4" y="412" font-size="12" fill="#22381b" stroke="#9bee6c" stroke-width="0.2">BKG n= 5</text>
<rect x="134.4" y="426.5" width="202.7" height="79.3" rx="14" ry="14" fill="#fff" stroke="#4d4d4d" stroke-width="1.15"/>
<text x="143.2" y="441.7" font-size="12" textLength="151.5" lengthAdjust="spacingAndGlyphs" fill="#202020" stroke="#fff" stroke-width="0.2">RNAseq [metatranscriptome]</text>
<text x="168" y="456.8" font-size="12" textLength="75.8" lengthAdjust="spacingAndGlyphs" fill="#202020" stroke="#fff" stroke-width="0.2">1. RNA virome</text>
<text x="191.9" y="470.6" font-size="12" textLength="141.1" lengthAdjust="spacingAndGlyphs" fill="#202020" stroke="#fff" stroke-width="0.2">(vertebrate viruses/phages)</text>
<text x="168" y="485.4" font-size="12" textLength="124.2" lengthAdjust="spacingAndGlyphs" fill="#202020" stroke="#fff" stroke-width="0.2">2. Viral, bacterial, fungal</text>
<text x="168" y="500.2" font-size="12" textLength="126.7" lengthAdjust="spacingAndGlyphs" fill="#202020" stroke="#fff" stroke-width="0.2">3. Human transcriptome</text>
<rect x="386.6" y="426.5" width="202.1" height="79.3" rx="14" ry="14" fill="#fff" stroke="#4d4d4d" stroke-width="1.15"/>
<text x="396" y="441.7" font-size="12" textLength="121.3" lengthAdjust="spacingAndGlyphs" fill="#202020" stroke="#fff" stroke-width="0.2">DNAseq [metagenome]</text>
<text x="420.6" y="456.8" font-size="12" textLength="75.5" lengthAdjust="spacingAndGlyphs" fill="#202020" stroke="#fff" stroke-width="0.2">1. DNA virome</text>
<text x="444.8" y="470.6" font-size="12" textLength="140.2" lengthAdjust="spacingAndGlyphs" fill="#202020" stroke="#fff" stroke-width="0.2">(vertebrate viruses/phages)</text>
<text x="420.6" y="485.4" font-size="12" textLength="96.5" lengthAdjust="spacingAndGlyphs" fill="#202020" stroke="#fff" stroke-width="0.2">2. Bacterial, fungal</text>
<rect x="145.1" y="545.3" width="12.1" height="68.9" fill="#fff" stroke="#111" stroke-width="1.5"/>
<rect x="165.4" y="559.9" width="11.8" height="54.3" fill="#fff" stroke="#111" stroke-width="1.5"/>
<rect x="198.9" y="551.9" width="12.1" height="62.3" fill="#fff" stroke="#111" stroke-width="1.5"/>
<rect x="219" y="587.6" width="11.8" height="26.6" fill="#fff" stroke="#111" stroke-width="1.5"/>
<rect x="252.8" y="552.6" width="12.2" height="61.6" fill="#fff" stroke="#111" stroke-width="1.5"/>
<rect x="273" y="567" width="12.1" height="47.2" fill="#fff" stroke="#111" stroke-width="1.5"/>
<path d="M137.7 515.4V614.2H292.7" stroke="#111" stroke-width="1.5" fill="none" stroke-linejoin="miter"/>
<path d="M132.7 516.1H137.7" stroke="#111" stroke-width="1.4"/>
<text x="132.4" y="518.8" font-size="7.700" font-weight="bold" text-anchor="end" fill="#111" stroke="#111" stroke-width="0.150">10<tspan dy="-2.400" font-size="4.800">10</tspan></text>
<path d="M132.7 535.72H137.7" stroke="#111" stroke-width="1.4"/>
<text x="132.4" y="538.42" font-size="7.700" font-weight="bold" text-anchor="end" fill="#111" stroke="#111" stroke-width="0.150">10<tspan dy="-2.400" font-size="4.800">9</tspan></text>
<path d="M132.7 555.34H137.7" stroke="#111" stroke-width="1.4"/>
<text x="132.4" y="558.04" font-size="7.700" font-weight="bold" text-anchor="end" fill="#111" stroke="#111" stroke-width="0.150">10<tspan dy="-2.400" font-size="4.800">8</tspan></text>
<path d="M132.7 574.96H137.7" stroke="#111" stroke-width="1.4"/>
<text x="132.4" y="577.66" font-size="7.700" font-weight="bold" text-anchor="end" fill="#111" stroke="#111" stroke-width="0.150">10<tspan dy="-2.400" font-size="4.800">7</tspan></text>
<path d="M132.7 594.58H137.7" stroke="#111" stroke-width="1.4"/>
<text x="132.4" y="597.28" font-size="7.700" font-weight="bold" text-anchor="end" fill="#111" stroke="#111" stroke-width="0.150">10<tspan dy="-2.400" font-size="4.800">6</tspan></text>
<path d="M132.7 614.2H137.7" stroke="#111" stroke-width="1.4"/>
<text x="132.4" y="616.9" font-size="7.700" font-weight="bold" text-anchor="end" fill="#111" stroke="#111" stroke-width="0.150">10<tspan dy="-2.400" font-size="4.800">5</tspan></text>
<path d="M151.15 614.2v4.700" stroke="#111" stroke-width="1.3"/>
<text x="151.15" y="627.5" font-size="8.300" text-anchor="middle" fill="#262626">Pre</text>
<path d="M171.3 614.2v4.700" stroke="#111" stroke-width="1.3"/>
<text x="171.3" y="627.5" font-size="8.300" text-anchor="middle" fill="#262626">Post</text>
<path d="M204.95 614.2v4.700" stroke="#111" stroke-width="1.3"/>
<text x="204.95" y="627.5" font-size="8.300" text-anchor="middle" fill="#262626">Pre</text>
<path d="M224.9 614.2v4.700" stroke="#111" stroke-width="1.3"/>
<text x="224.9" y="627.5" font-size="8.300" text-anchor="middle" fill="#262626">Post</text>
<path d="M258.9 614.2v4.700" stroke="#111" stroke-width="1.3"/>
<text x="258.9" y="627.5" font-size="8.300" text-anchor="middle" fill="#262626">Pre</text>
<path d="M279.05 614.2v4.700" stroke="#111" stroke-width="1.3"/>
<text x="279.05" y="627.5" font-size="8.300" text-anchor="middle" fill="#262626">Post</text>
<path d="M142.1 632.5H182" stroke="#4a4a4a" stroke-width="0.9"/>
<text x="162.05" y="643.5" font-size="9.600" font-weight="bold" text-anchor="middle" fill="#111">BKG</text>
<path d="M196.1 632.5H235.4" stroke="#4a4a4a" stroke-width="0.9"/>
<text x="215.75" y="643.5" font-size="9.600" font-weight="bold" text-anchor="middle" fill="#111">BAL</text>
<path d="M249.5 632.5H288.5" stroke="#4a4a4a" stroke-width="0.9"/>
<text x="269" y="643.5" font-size="9.600" font-weight="bold" text-anchor="middle" fill="#111">UA</text>
<text x="115.4" y="568.3" font-size="12.500" text-anchor="middle" fill="#2a2a2a" transform="rotate(-90 115.4 568.3)">Reads</text>
<circle cx="150.8" cy="530.3" r="1.45" fill="#999"/>
<circle cx="150.8" cy="537.6" r="1.45" fill="#999"/>
<circle cx="146.9" cy="544.7" r="1.45" fill="#999"/>
<circle cx="154.2" cy="546.6" r="1.45" fill="#999"/>
<circle cx="150.8" cy="550.3" r="1.45" fill="#999"/>
<circle cx="171.1" cy="548.6" r="1.45" fill="#999"/>
<circle cx="171.1" cy="556" r="1.45" fill="#999"/>
<circle cx="168.1" cy="559.6" r="1.45" fill="#999"/>
<circle cx="174.3" cy="559.9" r="1.45" fill="#999"/>
<circle cx="168.6" cy="562.5" r="1.45" fill="#999"/>
<circle cx="205" cy="525.2" r="1.45" fill="#999"/>
<circle cx="205" cy="529.1" r="1.45" fill="#999"/>
<circle cx="204.95" cy="552.74" r="1.45" fill="#999"/>
<circle cx="207.61" cy="547.33" r="1.45" fill="#999"/>
<circle cx="205.56" cy="541.21" r="1.45" fill="#999"/>
<circle cx="210.23" cy="552.01" r="1.45" fill="#999"/>
<circle cx="201.87" cy="555.1" r="1.45" fill="#999"/>
<circle cx="204.48" cy="546.16" r="1.45" fill="#999"/>
<circle cx="202.7" cy="547.13" r="1.45" fill="#999"/>
<circle cx="204.86" cy="543.57" r="1.45" fill="#999"/>
<circle cx="206.39" cy="544.58" r="1.45" fill="#999"/>
<circle cx="201.33" cy="549.17" r="1.45" fill="#999"/>
<circle cx="210.13" cy="552.01" r="1.45" fill="#999"/>
<circle cx="206.09" cy="551.13" r="1.45" fill="#999"/>
<circle cx="199.91" cy="548.29" r="1.45" fill="#999"/>
<circle cx="205.38" cy="546.73" r="1.45" fill="#999"/>
<circle cx="203.49" cy="551.69" r="1.45" fill="#999"/>
<circle cx="207.41" cy="547.15" r="1.45" fill="#999"/>
<circle cx="204.88" cy="548.56" r="1.45" fill="#999"/>
<circle cx="205.11" cy="540.11" r="1.45" fill="#999"/>
<circle cx="205.02" cy="546.37" r="1.45" fill="#999"/>
<circle cx="201.91" cy="548.88" r="1.45" fill="#999"/>
<circle cx="202.26" cy="549.54" r="1.45" fill="#999"/>
<circle cx="205.21" cy="552.34" r="1.45" fill="#999"/>
<circle cx="199.8" cy="549.26" r="1.45" fill="#999"/>
<circle cx="202.51" cy="554.56" r="1.45" fill="#999"/>
<circle cx="203.44" cy="548.28" r="1.45" fill="#999"/>
<circle cx="204.49" cy="550.32" r="1.45" fill="#999"/>
<circle cx="202.39" cy="553.31" r="1.45" fill="#999"/>
<circle cx="200.9" cy="554.08" r="1.45" fill="#999"/>
<circle cx="205.08" cy="539.89" r="1.45" fill="#999"/>
<circle cx="205.45" cy="543.89" r="1.45" fill="#999"/>
<circle cx="203.15" cy="545.52" r="1.45" fill="#999"/>
<circle cx="202.41" cy="548.67" r="1.45" fill="#999"/>
<circle cx="202.88" cy="551.84" r="1.45" fill="#999"/>
<circle cx="203.88" cy="547.75" r="1.45" fill="#999"/>
<circle cx="201.85" cy="546.84" r="1.45" fill="#999"/>
<circle cx="203.05" cy="555.08" r="1.45" fill="#999"/>
<circle cx="199.2" cy="550.02" r="1.45" fill="#999"/>
<circle cx="207.41" cy="551.96" r="1.45" fill="#999"/>
<circle cx="201.54" cy="551.26" r="1.45" fill="#999"/>
<circle cx="206.68" cy="548.49" r="1.45" fill="#999"/>
<circle cx="202.17" cy="552.39" r="1.45" fill="#999"/>
<circle cx="203.31" cy="548.35" r="1.45" fill="#999"/>
<circle cx="201.65" cy="547.05" r="1.45" fill="#999"/>
<circle cx="205" cy="551.05" r="1.45" fill="#999"/>
<circle cx="203" cy="555.07" r="1.45" fill="#999"/>
<circle cx="201.88" cy="553.06" r="1.45" fill="#999"/>
<circle cx="210.37" cy="551.2" r="1.45" fill="#999"/>
<circle cx="210.95" cy="551.42" r="1.45" fill="#999"/>
<circle cx="206.58" cy="555.27" r="1.45" fill="#999"/>
<circle cx="203.41" cy="549.92" r="1.45" fill="#999"/>
<circle cx="206.95" cy="545.45" r="1.45" fill="#999"/>
<circle cx="209.68" cy="549.99" r="1.45" fill="#999"/>
<circle cx="204.23" cy="541.39" r="1.45" fill="#999"/>
<circle cx="206.18" cy="553.85" r="1.45" fill="#999"/>
<circle cx="205.77" cy="553.05" r="1.45" fill="#999"/>
<circle cx="204.23" cy="543.45" r="1.45" fill="#999"/>
<circle cx="208.05" cy="554.92" r="1.45" fill="#999"/>
<circle cx="207.67" cy="547.47" r="1.45" fill="#999"/>
<circle cx="206.74" cy="553.84" r="1.45" fill="#999"/>
<circle cx="205.63" cy="541.18" r="1.45" fill="#999"/>
<circle cx="203.48" cy="555.24" r="1.45" fill="#999"/>
<circle cx="206.51" cy="547.8" r="1.45" fill="#999"/>
<circle cx="205.36" cy="540.28" r="1.45" fill="#999"/>
<circle cx="201.05" cy="547.34" r="1.45" fill="#999"/>
<circle cx="204.18" cy="556.28" r="1.45" fill="#999"/>
<circle cx="206.87" cy="548.94" r="1.45" fill="#999"/>
<circle cx="203.19" cy="544.89" r="1.45" fill="#999"/>
<circle cx="206.29" cy="547.3" r="1.45" fill="#999"/>
<circle cx="204.21" cy="544.88" r="1.45" fill="#999"/>
<circle cx="205.19" cy="544.81" r="1.45" fill="#999"/>
<circle cx="201.97" cy="549.56" r="1.45" fill="#999"/>
<circle cx="205.18" cy="540.82" r="1.45" fill="#999"/>
<circle cx="209.8" cy="553.27" r="1.45" fill="#999"/>
<circle cx="205.07" cy="545.1" r="1.45" fill="#999"/>
<circle cx="207.22" cy="555.41" r="1.45" fill="#999"/>
<circle cx="201.33" cy="552.43" r="1.45" fill="#999"/>
<circle cx="206.82" cy="547.04" r="1.45" fill="#999"/>
<circle cx="199.54" cy="551.09" r="1.45" fill="#999"/>
<circle cx="209.08" cy="549.05" r="1.45" fill="#999"/>
<circle cx="203.52" cy="547.4" r="1.45" fill="#999"/>
<circle cx="205.54" cy="544.04" r="1.45" fill="#999"/>
<circle cx="201.54" cy="546.77" r="1.45" fill="#999"/>
<circle cx="202.82" cy="545.71" r="1.45" fill="#999"/>
<circle cx="205.82" cy="546.44" r="1.45" fill="#999"/>
<circle cx="205.1" cy="543.62" r="1.45" fill="#999"/>
<circle cx="204.34" cy="548.22" r="1.45" fill="#999"/>
<circle cx="201.79" cy="551.41" r="1.45" fill="#999"/>
<circle cx="202.09" cy="548.12" r="1.45" fill="#999"/>
<circle cx="208.16" cy="546.69" r="1.45" fill="#999"/>
<circle cx="205.84" cy="555.38" r="1.45" fill="#999"/>
<circle cx="201.21" cy="548.4" r="1.45" fill="#999"/>
<circle cx="206.9" cy="554.2" r="1.45" fill="#999"/>
<circle cx="209.11" cy="552.27" r="1.45" fill="#999"/>
<circle cx="202.06" cy="549.43" r="1.45" fill="#999"/>
<circle cx="207.04" cy="552.63" r="1.45" fill="#999"/>
<circle cx="205.18" cy="551.94" r="1.45" fill="#999"/>
<circle cx="202.56" cy="553.5" r="1.45" fill="#999"/>
<circle cx="206.97" cy="554.08" r="1.45" fill="#999"/>
<circle cx="201.45" cy="553.41" r="1.45" fill="#999"/>
<circle cx="206.96" cy="545.2" r="1.45" fill="#999"/>
<circle cx="205.35" cy="556.1" r="1.45" fill="#999"/>
<circle cx="203.44" cy="546.62" r="1.45" fill="#999"/>
<circle cx="206.1" cy="547.15" r="1.45" fill="#999"/>
<circle cx="201.45" cy="550.02" r="1.45" fill="#999"/>
<circle cx="210.09" cy="553.21" r="1.45" fill="#999"/>
<circle cx="209.12" cy="548.98" r="1.45" fill="#999"/>
<circle cx="203.71" cy="552.83" r="1.45" fill="#999"/>
<circle cx="206.24" cy="544.49" r="1.45" fill="#999"/>
<circle cx="205.04" cy="549.45" r="1.45" fill="#999"/>
<circle cx="204.09" cy="547.33" r="1.45" fill="#999"/>
<circle cx="225.82" cy="555.82" r="1.45" fill="#999"/>
<circle cx="222.76" cy="589.65" r="1.45" fill="#999"/>
<circle cx="224.54" cy="581.94" r="1.45" fill="#999"/>
<circle cx="223.67" cy="580.1" r="1.45" fill="#999"/>
<circle cx="224.93" cy="554.79" r="1.45" fill="#999"/>
<circle cx="225.61" cy="597.41" r="1.45" fill="#999"/>
<circle cx="224.45" cy="564.76" r="1.45" fill="#999"/>
<circle cx="229.75" cy="592.68" r="1.45" fill="#999"/>
<circle cx="223.27" cy="590.99" r="1.45" fill="#999"/>
<circle cx="225.33" cy="588.61" r="1.45" fill="#999"/>
<circle cx="225.65" cy="597.81" r="1.45" fill="#999"/>
<circle cx="224.11" cy="577.23" r="1.45" fill="#999"/>
<circle cx="229.19" cy="587.84" r="1.45" fill="#999"/>
<circle cx="225.19" cy="588.17" r="1.45" fill="#999"/>
<circle cx="223.4" cy="585.44" r="1.45" fill="#999"/>
<circle cx="221.6" cy="599.52" r="1.45" fill="#999"/>
<circle cx="229.71" cy="593.86" r="1.45" fill="#999"/>
<circle cx="226.26" cy="566.6" r="1.45" fill="#999"/>
<circle cx="221.7" cy="595.53" r="1.45" fill="#999"/>
<circle cx="227.29" cy="596.85" r="1.45" fill="#999"/>
<circle cx="221.33" cy="593.51" r="1.45" fill="#999"/>
<circle cx="220.45" cy="587.44" r="1.45" fill="#999"/>
<circle cx="223.66" cy="602.3" r="1.45" fill="#999"/>
<circle cx="223.05" cy="589.97" r="1.45" fill="#999"/>
<circle cx="229.76" cy="591.15" r="1.45" fill="#999"/>
<circle cx="227.44" cy="590.63" r="1.45" fill="#999"/>
<circle cx="225.8" cy="576.54" r="1.45" fill="#999"/>
<circle cx="224.81" cy="568.75" r="1.45" fill="#999"/>
<circle cx="225.92" cy="596.56" r="1.45" fill="#999"/>
<circle cx="225.26" cy="573.9" r="1.45" fill="#999"/>
<circle cx="223.69" cy="560" r="1.45" fill="#999"/>
<circle cx="225.39" cy="561.03" r="1.45" fill="#999"/>
<circle cx="224.18" cy="588.33" r="1.45" fill="#999"/>
<circle cx="222.44" cy="579.2" r="1.45" fill="#999"/>
<circle cx="225.96" cy="573.35" r="1.45" fill="#999"/>
<circle cx="224" cy="565" r="1.45" fill="#999"/>
<circle cx="225.06" cy="564.53" r="1.45" fill="#999"/>
<circle cx="225.69" cy="576.13" r="1.45" fill="#999"/>
<circle cx="224.45" cy="581.94" r="1.45" fill="#999"/>
<circle cx="222.77" cy="579.15" r="1.45" fill="#999"/>
<circle cx="225.22" cy="592.97" r="1.45" fill="#999"/>
<circle cx="223.19" cy="598.89" r="1.45" fill="#999"/>
<circle cx="219.45" cy="594.86" r="1.45" fill="#999"/>
<circle cx="225.45" cy="577.2" r="1.45" fill="#999"/>
<circle cx="220.49" cy="590.53" r="1.45" fill="#999"/>
<circle cx="225.96" cy="559.06" r="1.45" fill="#999"/>
<circle cx="226.59" cy="587.49" r="1.45" fill="#999"/>
<circle cx="224.98" cy="591.71" r="1.45" fill="#999"/>
<circle cx="225.31" cy="592.78" r="1.45" fill="#999"/>
<circle cx="221.92" cy="594.63" r="1.45" fill="#999"/>
<circle cx="224.63" cy="577.34" r="1.45" fill="#999"/>
<circle cx="224.82" cy="602.69" r="1.45" fill="#999"/>
<circle cx="226.01" cy="556.33" r="1.45" fill="#999"/>
<circle cx="225.23" cy="586.92" r="1.45" fill="#999"/>
<circle cx="229.3" cy="588.63" r="1.45" fill="#999"/>
<circle cx="220.82" cy="591.98" r="1.45" fill="#999"/>
<circle cx="225.44" cy="574.97" r="1.45" fill="#999"/>
<circle cx="225.11" cy="596.91" r="1.45" fill="#999"/>
<circle cx="229.85" cy="588.13" r="1.45" fill="#999"/>
<circle cx="226.38" cy="595.43" r="1.45" fill="#999"/>
<circle cx="229.64" cy="589.33" r="1.45" fill="#999"/>
<circle cx="228.26" cy="597.06" r="1.45" fill="#999"/>
<circle cx="227.89" cy="591.2" r="1.45" fill="#999"/>
<circle cx="227.08" cy="582.19" r="1.45" fill="#999"/>
<circle cx="225.3" cy="574.63" r="1.45" fill="#999"/>
<circle cx="227.29" cy="576.26" r="1.45" fill="#999"/>
<circle cx="224.96" cy="556.63" r="1.45" fill="#999"/>
<circle cx="227.92" cy="594.69" r="1.45" fill="#999"/>
<circle cx="225.01" cy="569.68" r="1.45" fill="#999"/>
<circle cx="225.47" cy="554.37" r="1.45" fill="#999"/>
<circle cx="227.06" cy="592.06" r="1.45" fill="#999"/>
<circle cx="220.71" cy="592.21" r="1.45" fill="#999"/>
<circle cx="222.61" cy="576.14" r="1.45" fill="#999"/>
<circle cx="226.64" cy="596.35" r="1.45" fill="#999"/>
<circle cx="227.9" cy="598.55" r="1.45" fill="#999"/>
<circle cx="223.75" cy="592.63" r="1.45" fill="#999"/>
<circle cx="226.53" cy="594.87" r="1.45" fill="#999"/>
<circle cx="226.47" cy="595.38" r="1.45" fill="#999"/>
<circle cx="224.85" cy="568.34" r="1.45" fill="#999"/>
<circle cx="226.96" cy="600.7" r="1.45" fill="#999"/>
<circle cx="224.85" cy="568.86" r="1.45" fill="#999"/>
<circle cx="226.2" cy="598.9" r="1.45" fill="#999"/>
<circle cx="221.71" cy="599.3" r="1.45" fill="#999"/>
<circle cx="225.56" cy="564.84" r="1.45" fill="#999"/>
<circle cx="228.61" cy="592.6" r="1.45" fill="#999"/>
<circle cx="227.6" cy="584.52" r="1.45" fill="#999"/>
<circle cx="226.6" cy="599.11" r="1.45" fill="#999"/>
<circle cx="230.2" cy="590.4" r="1.45" fill="#999"/>
<circle cx="224.04" cy="586.4" r="1.45" fill="#999"/>
<circle cx="229.57" cy="597.5" r="1.45" fill="#999"/>
<circle cx="224.59" cy="559.33" r="1.45" fill="#999"/>
<circle cx="224.34" cy="596.98" r="1.45" fill="#999"/>
<circle cx="226.9" cy="580.03" r="1.45" fill="#999"/>
<circle cx="225.57" cy="572.42" r="1.45" fill="#999"/>
<circle cx="222" cy="599.12" r="1.45" fill="#999"/>
<circle cx="224.3" cy="573.94" r="1.45" fill="#999"/>
<circle cx="225.35" cy="565.27" r="1.45" fill="#999"/>
<circle cx="220.79" cy="591.24" r="1.45" fill="#999"/>
<circle cx="228.18" cy="595.37" r="1.45" fill="#999"/>
<circle cx="228.07" cy="595.1" r="1.45" fill="#999"/>
<circle cx="228.71" cy="583.4" r="1.45" fill="#999"/>
<circle cx="227.6" cy="583.85" r="1.45" fill="#999"/>
<circle cx="222.85" cy="579.13" r="1.45" fill="#999"/>
<circle cx="226.04" cy="602.56" r="1.45" fill="#999"/>
<circle cx="220.4" cy="592.74" r="1.45" fill="#999"/>
<circle cx="223.64" cy="570.46" r="1.45" fill="#999"/>
<circle cx="229.29" cy="586.35" r="1.45" fill="#999"/>
<circle cx="228.38" cy="585.34" r="1.45" fill="#999"/>
<circle cx="225.01" cy="580.83" r="1.45" fill="#999"/>
<circle cx="226.05" cy="556" r="1.45" fill="#999"/>
<circle cx="227.1" cy="593.94" r="1.45" fill="#999"/>
<circle cx="224.91" cy="596.6" r="1.45" fill="#999"/>
<circle cx="223.92" cy="559.56" r="1.45" fill="#999"/>
<circle cx="224.13" cy="563.55" r="1.45" fill="#999"/>
<circle cx="229.58" cy="588.74" r="1.45" fill="#999"/>
<circle cx="225.91" cy="561.12" r="1.45" fill="#999"/>
<circle cx="224.03" cy="584.23" r="1.45" fill="#999"/>
<circle cx="225.73" cy="592.73" r="1.45" fill="#999"/>
<circle cx="226.32" cy="576.54" r="1.45" fill="#999"/>
<circle cx="225.65" cy="602.15" r="1.45" fill="#999"/>
<circle cx="220.19" cy="587.81" r="1.45" fill="#999"/>
<circle cx="223.19" cy="580.48" r="1.45" fill="#999"/>
<circle cx="220.3" cy="587.99" r="1.45" fill="#999"/>
<circle cx="228.96" cy="591.46" r="1.45" fill="#999"/>
<circle cx="222.83" cy="582.79" r="1.45" fill="#999"/>
<circle cx="227.61" cy="580.11" r="1.45" fill="#999"/>
<circle cx="223.58" cy="576.1" r="1.45" fill="#999"/>
<circle cx="222.43" cy="594.04" r="1.45" fill="#999"/>
<circle cx="224.17" cy="597.94" r="1.45" fill="#999"/>
<circle cx="225.14" cy="579.79" r="1.45" fill="#999"/>
<circle cx="227.31" cy="599.01" r="1.45" fill="#999"/>
<circle cx="224.48" cy="587.53" r="1.45" fill="#999"/>
<circle cx="224.87" cy="575.63" r="1.45" fill="#999"/>
<circle cx="224.92" cy="565.68" r="1.45" fill="#999"/>
<circle cx="222.86" cy="581.55" r="1.45" fill="#999"/>
<circle cx="222.19" cy="586.97" r="1.45" fill="#999"/>
<circle cx="219.41" cy="594.68" r="1.45" fill="#999"/>
<circle cx="222.94" cy="596.35" r="1.45" fill="#999"/>
<circle cx="225.82" cy="568.88" r="1.45" fill="#999"/>
<circle cx="225.3" cy="559.57" r="1.45" fill="#999"/>
<circle cx="225.35" cy="571.71" r="1.45" fill="#999"/>
<circle cx="224.96" cy="598.54" r="1.45" fill="#999"/>
<circle cx="220.93" cy="592.88" r="1.45" fill="#999"/>
<circle cx="226.71" cy="599.11" r="1.45" fill="#999"/>
<circle cx="227.19" cy="596.54" r="1.45" fill="#999"/>
<circle cx="223.43" cy="579.09" r="1.45" fill="#999"/>
<circle cx="223.58" cy="576.64" r="1.45" fill="#999"/>
<circle cx="230.16" cy="593.71" r="1.45" fill="#999"/>
<circle cx="226.92" cy="586.59" r="1.45" fill="#999"/>
<circle cx="219.47" cy="589.58" r="1.45" fill="#999"/>
<circle cx="257.74" cy="546.81" r="1.45" fill="#999"/>
<circle cx="253.92" cy="551.89" r="1.45" fill="#999"/>
<circle cx="263.56" cy="547.11" r="1.45" fill="#999"/>
<circle cx="258.62" cy="550.04" r="1.45" fill="#999"/>
<circle cx="260.36" cy="552.38" r="1.45" fill="#999"/>
<circle cx="254.95" cy="553.8" r="1.45" fill="#999"/>
<circle cx="257.16" cy="554.04" r="1.45" fill="#999"/>
<circle cx="263.45" cy="550.07" r="1.45" fill="#999"/>
<circle cx="258.27" cy="548.99" r="1.45" fill="#999"/>
<circle cx="257.26" cy="544.85" r="1.45" fill="#999"/>
<circle cx="258.98" cy="552.21" r="1.45" fill="#999"/>
<circle cx="259.86" cy="548.86" r="1.45" fill="#999"/>
<circle cx="261.05" cy="551.62" r="1.45" fill="#999"/>
<circle cx="255.41" cy="551.41" r="1.45" fill="#999"/>
<circle cx="262.41" cy="547.46" r="1.45" fill="#999"/>
<circle cx="259.37" cy="557.26" r="1.45" fill="#999"/>
<circle cx="256.54" cy="549.21" r="1.45" fill="#999"/>
<circle cx="258.65" cy="543.94" r="1.45" fill="#999"/>
<circle cx="253.7" cy="551.99" r="1.45" fill="#999"/>
<circle cx="261.35" cy="555.56" r="1.45" fill="#999"/>
<circle cx="260.61" cy="549.9" r="1.45" fill="#999"/>
<circle cx="260.3" cy="551.78" r="1.45" fill="#999"/>
<circle cx="255.84" cy="549.49" r="1.45" fill="#999"/>
<circle cx="252.82" cy="550.74" r="1.45" fill="#999"/>
<circle cx="253.38" cy="549.27" r="1.45" fill="#999"/>
<circle cx="253.94" cy="552.06" r="1.45" fill="#999"/>
<circle cx="260.88" cy="552.22" r="1.45" fill="#999"/>
<circle cx="261.51" cy="548.4" r="1.45" fill="#999"/>
<circle cx="259.3" cy="543.81" r="1.45" fill="#999"/>
<circle cx="256.76" cy="549.84" r="1.45" fill="#999"/>
<circle cx="257.45" cy="548.56" r="1.45" fill="#999"/>
<circle cx="257.47" cy="551.78" r="1.45" fill="#999"/>
<circle cx="259.47" cy="554.23" r="1.45" fill="#999"/>
<circle cx="256.35" cy="553.72" r="1.45" fill="#999"/>
<circle cx="256.61" cy="554.67" r="1.45" fill="#999"/>
<circle cx="254.25" cy="549.55" r="1.45" fill="#999"/>
<circle cx="262.46" cy="547.98" r="1.45" fill="#999"/>
<circle cx="255.03" cy="549.59" r="1.45" fill="#999"/>
<circle cx="263.07" cy="548.18" r="1.45" fill="#999"/>
<circle cx="254.42" cy="549.77" r="1.45" fill="#999"/>
<circle cx="262.74" cy="550.86" r="1.45" fill="#999"/>
<circle cx="257.52" cy="555.15" r="1.45" fill="#999"/>
<circle cx="256.22" cy="554.71" r="1.45" fill="#999"/>
<circle cx="256.6" cy="547.56" r="1.45" fill="#999"/>
<circle cx="258.02" cy="548.31" r="1.45" fill="#999"/>
<circle cx="262.13" cy="545.67" r="1.45" fill="#999"/>
<circle cx="259.76" cy="556.39" r="1.45" fill="#999"/>
<circle cx="256.93" cy="550.71" r="1.45" fill="#999"/>
<circle cx="259.68" cy="546.66" r="1.45" fill="#999"/>
<circle cx="261.83" cy="551.52" r="1.45" fill="#999"/>
<circle cx="260.14" cy="545.89" r="1.45" fill="#999"/>
<circle cx="264.38" cy="550.8" r="1.45" fill="#999"/>
<circle cx="256.1" cy="552.01" r="1.45" fill="#999"/>
<circle cx="256.48" cy="554.37" r="1.45" fill="#999"/>
<circle cx="254.77" cy="550.93" r="1.45" fill="#999"/>
<circle cx="257.64" cy="555.49" r="1.45" fill="#999"/>
<circle cx="258.16" cy="547.23" r="1.45" fill="#999"/>
<circle cx="252.91" cy="550.07" r="1.45" fill="#999"/>
<circle cx="257.47" cy="544.26" r="1.45" fill="#999"/>
<circle cx="258.91" cy="555.38" r="1.45" fill="#999"/>
<circle cx="257.33" cy="547.89" r="1.45" fill="#999"/>
<circle cx="257.41" cy="552.49" r="1.45" fill="#999"/>
<circle cx="255.89" cy="546.16" r="1.45" fill="#999"/>
<circle cx="257.42" cy="551.22" r="1.45" fill="#999"/>
<circle cx="258.27" cy="544.61" r="1.45" fill="#999"/>
<circle cx="257.53" cy="551.9" r="1.45" fill="#999"/>
<circle cx="258.86" cy="549.5" r="1.45" fill="#999"/>
<circle cx="260.79" cy="553.27" r="1.45" fill="#999"/>
<circle cx="259.33" cy="549.91" r="1.45" fill="#999"/>
<circle cx="258.16" cy="553.16" r="1.45" fill="#999"/>
<circle cx="263.97" cy="549.42" r="1.45" fill="#999"/>
<circle cx="258.62" cy="554.49" r="1.45" fill="#999"/>
<circle cx="255.25" cy="553.7" r="1.45" fill="#999"/>
<circle cx="254.71" cy="551.67" r="1.45" fill="#999"/>
<circle cx="255.54" cy="554.26" r="1.45" fill="#999"/>
<circle cx="261.55" cy="545.99" r="1.45" fill="#999"/>
<circle cx="260.9" cy="554.6" r="1.45" fill="#999"/>
<circle cx="254.04" cy="550.61" r="1.45" fill="#999"/>
<circle cx="259.16" cy="544.35" r="1.45" fill="#999"/>
<circle cx="256.79" cy="555.01" r="1.45" fill="#999"/>
<circle cx="261.23" cy="546.97" r="1.45" fill="#999"/>
<circle cx="257.73" cy="548.97" r="1.45" fill="#999"/>
<circle cx="254.34" cy="548.37" r="1.45" fill="#999"/>
<circle cx="255" cy="549.24" r="1.45" fill="#999"/>
<circle cx="260.63" cy="553.1" r="1.45" fill="#999"/>
<circle cx="260.67" cy="550.69" r="1.45" fill="#999"/>
<circle cx="257.11" cy="555.97" r="1.45" fill="#999"/>
<circle cx="261.62" cy="550.69" r="1.45" fill="#999"/>
<circle cx="256.52" cy="546.09" r="1.45" fill="#999"/>
<circle cx="255.74" cy="551.64" r="1.45" fill="#999"/>
<circle cx="278.03" cy="560.74" r="1.45" fill="#999"/>
<circle cx="278.27" cy="558.94" r="1.45" fill="#999"/>
<circle cx="279.2" cy="572.49" r="1.45" fill="#999"/>
<circle cx="275.07" cy="561.64" r="1.45" fill="#999"/>
<circle cx="278.13" cy="573.27" r="1.45" fill="#999"/>
<circle cx="276.58" cy="570.41" r="1.45" fill="#999"/>
<circle cx="283.88" cy="566.01" r="1.45" fill="#999"/>
<circle cx="278.19" cy="564.69" r="1.45" fill="#999"/>
<circle cx="281.37" cy="559.08" r="1.45" fill="#999"/>
<circle cx="279.55" cy="556.46" r="1.45" fill="#999"/>
<circle cx="278.71" cy="561.73" r="1.45" fill="#999"/>
<circle cx="276.51" cy="559.84" r="1.45" fill="#999"/>
<circle cx="277.79" cy="569.55" r="1.45" fill="#999"/>
<circle cx="279.34" cy="572.08" r="1.45" fill="#999"/>
<circle cx="277.76" cy="575.58" r="1.45" fill="#999"/>
<circle cx="277.51" cy="569.16" r="1.45" fill="#999"/>
<circle cx="275.36" cy="559.44" r="1.45" fill="#999"/>
<circle cx="278.6" cy="576.81" r="1.45" fill="#999"/>
<circle cx="280.42" cy="564.61" r="1.45" fill="#999"/>
<circle cx="277.67" cy="573.66" r="1.45" fill="#999"/>
<circle cx="277.61" cy="565.36" r="1.45" fill="#999"/>
<circle cx="278.07" cy="555.71" r="1.45" fill="#999"/>
<circle cx="277.97" cy="572.9" r="1.45" fill="#999"/>
<circle cx="273.74" cy="564.91" r="1.45" fill="#999"/>
<circle cx="279.86" cy="556.73" r="1.45" fill="#999"/>
<circle cx="278.93" cy="558.82" r="1.45" fill="#999"/>
<circle cx="280.83" cy="558.21" r="1.45" fill="#999"/>
<circle cx="278" cy="566.11" r="1.45" fill="#999"/>
<circle cx="278.02" cy="556.2" r="1.45" fill="#999"/>
<circle cx="282.21" cy="560.12" r="1.45" fill="#999"/>
<circle cx="282.05" cy="558.65" r="1.45" fill="#999"/>
<circle cx="280.8" cy="564.45" r="1.45" fill="#999"/>
<circle cx="275.85" cy="566.47" r="1.45" fill="#999"/>
<circle cx="280.92" cy="567.22" r="1.45" fill="#999"/>
<circle cx="279.92" cy="576.73" r="1.45" fill="#999"/>
<circle cx="276.46" cy="570.31" r="1.45" fill="#999"/>
<circle cx="281.06" cy="569.6" r="1.45" fill="#999"/>
<circle cx="277.56" cy="559.98" r="1.45" fill="#999"/>
<circle cx="273.66" cy="565.97" r="1.45" fill="#999"/>
<circle cx="280.19" cy="566.35" r="1.45" fill="#999"/>
<circle cx="280.89" cy="558.58" r="1.45" fill="#999"/>
<circle cx="282.52" cy="567.11" r="1.45" fill="#999"/>
<circle cx="279.18" cy="573.87" r="1.45" fill="#999"/>
<circle cx="276.85" cy="563.96" r="1.45" fill="#999"/>
<circle cx="283.32" cy="560.69" r="1.45" fill="#999"/>
<circle cx="279.73" cy="557.61" r="1.45" fill="#999"/>
<circle cx="282.29" cy="565.13" r="1.45" fill="#999"/>
<circle cx="281.82" cy="559.85" r="1.45" fill="#999"/>
<circle cx="275.03" cy="564.88" r="1.45" fill="#999"/>
<circle cx="277.83" cy="574.91" r="1.45" fill="#999"/>
<circle cx="279.46" cy="566.47" r="1.45" fill="#999"/>
<circle cx="281.17" cy="567.6" r="1.45" fill="#999"/>
<circle cx="276.18" cy="566.25" r="1.45" fill="#999"/>
<circle cx="279.94" cy="569.41" r="1.45" fill="#999"/>
<circle cx="276.79" cy="565.87" r="1.45" fill="#999"/>
<circle cx="275.81" cy="569.11" r="1.45" fill="#999"/>
<circle cx="279.84" cy="572.62" r="1.45" fill="#999"/>
<circle cx="276.53" cy="558.46" r="1.45" fill="#999"/>
<circle cx="280.79" cy="573.46" r="1.45" fill="#999"/>
<circle cx="277.32" cy="563.76" r="1.45" fill="#999"/>
<circle cx="278.15" cy="569.28" r="1.45" fill="#999"/>
<circle cx="279.35" cy="576.28" r="1.45" fill="#999"/>
<circle cx="273.92" cy="562.75" r="1.45" fill="#999"/>
<circle cx="278.96" cy="559.02" r="1.45" fill="#999"/>
<circle cx="283.65" cy="564.52" r="1.45" fill="#999"/>
<circle cx="277.17" cy="571.12" r="1.45" fill="#999"/>
<circle cx="284.29" cy="562.75" r="1.45" fill="#999"/>
<circle cx="276.48" cy="564.39" r="1.45" fill="#999"/>
<circle cx="275.28" cy="564.64" r="1.45" fill="#999"/>
<circle cx="280.16" cy="567.49" r="1.45" fill="#999"/>
<circle cx="275.26" cy="569.34" r="1.45" fill="#999"/>
<circle cx="276.47" cy="562.43" r="1.45" fill="#999"/>
<circle cx="277.54" cy="558.8" r="1.45" fill="#999"/>
<circle cx="279.61" cy="576.54" r="1.45" fill="#999"/>
<circle cx="282.36" cy="570.61" r="1.45" fill="#999"/>
<circle cx="275.65" cy="561.32" r="1.45" fill="#999"/>
<circle cx="277.88" cy="557.65" r="1.45" fill="#999"/>
<circle cx="282.28" cy="558.2" r="1.45" fill="#999"/>
<circle cx="281.19" cy="567.93" r="1.45" fill="#999"/>
<circle cx="275.57" cy="567.76" r="1.45" fill="#999"/>
<circle cx="281.03" cy="557.01" r="1.45" fill="#999"/>
<circle cx="280.77" cy="561.18" r="1.45" fill="#999"/>
<circle cx="273.6" cy="564.09" r="1.45" fill="#999"/>
<circle cx="280.52" cy="574.96" r="1.45" fill="#999"/>
<circle cx="281.57" cy="558.89" r="1.45" fill="#999"/>
<circle cx="279.22" cy="573.78" r="1.45" fill="#999"/>
<circle cx="275.48" cy="566.08" r="1.45" fill="#999"/>
<circle cx="280.11" cy="568.54" r="1.45" fill="#999"/>
<circle cx="280.21" cy="568.82" r="1.45" fill="#999"/>
<circle cx="282.06" cy="570.2" r="1.45" fill="#999"/>
<circle cx="277" cy="554.6" r="1.45" fill="#999"/>
<circle cx="280.9" cy="554.6" r="1.45" fill="#999"/>
<circle cx="279" cy="578.8" r="1.45" fill="#999"/>
<circle cx="279" cy="584" r="1.45" fill="#999"/>
<rect x="458.9" y="565.8" width="12.1" height="47.6" fill="#fff" stroke="#111" stroke-width="1.5"/>
<rect x="479" y="567.5" width="12.2" height="45.9" fill="#fff" stroke="#111" stroke-width="1.5"/>
<rect x="512.9" y="529" width="12.1" height="84.4" fill="#fff" stroke="#111" stroke-width="1.5"/>
<rect x="533.2" y="583.6" width="11.8" height="29.8" fill="#fff" stroke="#111" stroke-width="1.5"/>
<rect x="566.7" y="531.7" width="12.2" height="81.7" fill="#fff" stroke="#111" stroke-width="1.5"/>
<rect x="587" y="562.1" width="11.8" height="51.3" fill="#fff" stroke="#111" stroke-width="1.5"/>
<path d="M451.7 514.5V613.4H606.6" stroke="#111" stroke-width="1.5" fill="none" stroke-linejoin="miter"/>
<path d="M446.7 515.2H451.7" stroke="#111" stroke-width="1.4"/>
<text x="446.4" y="517.9" font-size="7.700" font-weight="bold" text-anchor="end" fill="#111" stroke="#111" stroke-width="0.150">10<tspan dy="-2.400" font-size="4.800">9</tspan></text>
<path d="M446.7 539.75H451.7" stroke="#111" stroke-width="1.4"/>
<text x="446.4" y="542.45" font-size="7.700" font-weight="bold" text-anchor="end" fill="#111" stroke="#111" stroke-width="0.150">10<tspan dy="-2.400" font-size="4.800">8</tspan></text>
<path d="M446.7 564.3H451.7" stroke="#111" stroke-width="1.4"/>
<text x="446.4" y="567" font-size="7.700" font-weight="bold" text-anchor="end" fill="#111" stroke="#111" stroke-width="0.150">10<tspan dy="-2.400" font-size="4.800">7</tspan></text>
<path d="M446.7 588.85H451.7" stroke="#111" stroke-width="1.4"/>
<text x="446.4" y="591.55" font-size="7.700" font-weight="bold" text-anchor="end" fill="#111" stroke="#111" stroke-width="0.150">10<tspan dy="-2.400" font-size="4.800">6</tspan></text>
<path d="M446.7 613.4H451.7" stroke="#111" stroke-width="1.4"/>
<text x="446.4" y="616.1" font-size="7.700" font-weight="bold" text-anchor="end" fill="#111" stroke="#111" stroke-width="0.150">10<tspan dy="-2.400" font-size="4.800">5</tspan></text>
<path d="M464.95 613.4v4.700" stroke="#111" stroke-width="1.3"/>
<text x="465.95" y="626.7" font-size="8.300" text-anchor="middle" fill="#262626">Pre</text>
<path d="M485.1 613.4v4.700" stroke="#111" stroke-width="1.3"/>
<text x="486.1" y="626.7" font-size="8.300" text-anchor="middle" fill="#262626">Post</text>
<path d="M518.95 613.4v4.700" stroke="#111" stroke-width="1.3"/>
<text x="519.95" y="626.7" font-size="8.300" text-anchor="middle" fill="#262626">Pre</text>
<path d="M539.1 613.4v4.700" stroke="#111" stroke-width="1.3"/>
<text x="540.1" y="626.7" font-size="8.300" text-anchor="middle" fill="#262626">Post</text>
<path d="M572.8 613.4v4.700" stroke="#111" stroke-width="1.3"/>
<text x="573.8" y="626.7" font-size="8.300" text-anchor="middle" fill="#262626">Pre</text>
<path d="M592.9 613.4v4.700" stroke="#111" stroke-width="1.3"/>
<text x="593.9" y="626.7" font-size="8.300" text-anchor="middle" fill="#262626">Post</text>
<path d="M457 631.7H496.9" stroke="#4a4a4a" stroke-width="0.9"/>
<text x="476.95" y="642.7" font-size="9.600" font-weight="bold" text-anchor="middle" fill="#111">BKG</text>
<path d="M511 631.7H550.3" stroke="#4a4a4a" stroke-width="0.9"/>
<text x="530.65" y="642.7" font-size="9.600" font-weight="bold" text-anchor="middle" fill="#111">BAL</text>
<path d="M564.4 631.7H603.4" stroke="#4a4a4a" stroke-width="0.9"/>
<text x="583.9" y="642.7" font-size="9.600" font-weight="bold" text-anchor="middle" fill="#111">UA</text>
<text x="430.3" y="568.4" font-size="12.500" text-anchor="middle" fill="#2a2a2a" transform="rotate(-90 430.3 568.4)">Reads</text>
<circle cx="465" cy="553.5" r="1.45" fill="#999"/>
<circle cx="468.2" cy="563.3" r="1.45" fill="#999"/>
<circle cx="461.8" cy="565" r="1.45" fill="#999"/>
<circle cx="468.2" cy="567.2" r="1.45" fill="#999"/>
<circle cx="465" cy="576.5" r="1.45" fill="#999"/>
<circle cx="480" cy="564.5" r="1.45" fill="#999"/>
<circle cx="490.4" cy="565" r="1.45" fill="#999"/>
<circle cx="485.1" cy="567.5" r="1.45" fill="#999"/>
<circle cx="485.1" cy="570.9" r="1.45" fill="#999"/>
<circle cx="485.1" cy="577.7" r="1.45" fill="#999"/>
<circle cx="518.6" cy="518.5" r="1.45" fill="#999"/>
<circle cx="518.6" cy="543.3" r="1.45" fill="#999"/>
<circle cx="522.62" cy="527.17" r="1.45" fill="#999"/>
<circle cx="518.71" cy="530.37" r="1.45" fill="#999"/>
<circle cx="518.71" cy="530.14" r="1.45" fill="#999"/>
<circle cx="515.48" cy="526.64" r="1.45" fill="#999"/>
<circle cx="522.06" cy="528.69" r="1.45" fill="#999"/>
<circle cx="519.78" cy="521.86" r="1.45" fill="#999"/>
<circle cx="520.87" cy="522.74" r="1.45" fill="#999"/>
<circle cx="522.28" cy="529.83" r="1.45" fill="#999"/>
<circle cx="515.56" cy="526.27" r="1.45" fill="#999"/>
<circle cx="516.88" cy="523.7" r="1.45" fill="#999"/>
<circle cx="518.37" cy="522.06" r="1.45" fill="#999"/>
<circle cx="521.16" cy="526.95" r="1.45" fill="#999"/>
<circle cx="521.1" cy="524.12" r="1.45" fill="#999"/>
<circle cx="518.71" cy="525.64" r="1.45" fill="#999"/>
<circle cx="524.35" cy="528.04" r="1.45" fill="#999"/>
<circle cx="521.3" cy="529.54" r="1.45" fill="#999"/>
<circle cx="515.21" cy="524.42" r="1.45" fill="#999"/>
<circle cx="519.98" cy="530.72" r="1.45" fill="#999"/>
<circle cx="519.07" cy="524.18" r="1.45" fill="#999"/>
<circle cx="521.51" cy="528.8" r="1.45" fill="#999"/>
<circle cx="516.86" cy="527.04" r="1.45" fill="#999"/>
<circle cx="516.86" cy="523.84" r="1.45" fill="#999"/>
<circle cx="520.37" cy="522.23" r="1.45" fill="#999"/>
<circle cx="515.96" cy="526.21" r="1.45" fill="#999"/>
<circle cx="518.35" cy="526.86" r="1.45" fill="#999"/>
<circle cx="522.53" cy="525.01" r="1.45" fill="#999"/>
<circle cx="520.89" cy="529.47" r="1.45" fill="#999"/>
<circle cx="518.22" cy="528.93" r="1.45" fill="#999"/>
<circle cx="521.87" cy="523.65" r="1.45" fill="#999"/>
<circle cx="521.06" cy="525.35" r="1.45" fill="#999"/>
<circle cx="517.94" cy="525.63" r="1.45" fill="#999"/>
<circle cx="516.88" cy="527.21" r="1.45" fill="#999"/>
<circle cx="520.62" cy="528.79" r="1.45" fill="#999"/>
<circle cx="521.09" cy="528.63" r="1.45" fill="#999"/>
<circle cx="516.72" cy="528.74" r="1.45" fill="#999"/>
<circle cx="519.47" cy="526.71" r="1.45" fill="#999"/>
<circle cx="517.04" cy="527.43" r="1.45" fill="#999"/>
<circle cx="522.94" cy="527.39" r="1.45" fill="#999"/>
<circle cx="515.28" cy="526.04" r="1.45" fill="#999"/>
<circle cx="521.09" cy="525.61" r="1.45" fill="#999"/>
<circle cx="522.02" cy="528.31" r="1.45" fill="#999"/>
<circle cx="517.93" cy="526.72" r="1.45" fill="#999"/>
<circle cx="520.62" cy="527.17" r="1.45" fill="#999"/>
<circle cx="515.07" cy="528.21" r="1.45" fill="#999"/>
<circle cx="516.33" cy="525.22" r="1.45" fill="#999"/>
<circle cx="513.53" cy="527.84" r="1.45" fill="#999"/>
<circle cx="514.52" cy="525.55" r="1.45" fill="#999"/>
<circle cx="517.29" cy="522.44" r="1.45" fill="#999"/>
<circle cx="519.98" cy="525.48" r="1.45" fill="#999"/>
<circle cx="523.91" cy="526.81" r="1.45" fill="#999"/>
<circle cx="516.75" cy="523.48" r="1.45" fill="#999"/>
<circle cx="514.79" cy="529.4" r="1.45" fill="#999"/>
<circle cx="519.48" cy="527.07" r="1.45" fill="#999"/>
<circle cx="514.49" cy="527.37" r="1.45" fill="#999"/>
<circle cx="524.64" cy="526.88" r="1.45" fill="#999"/>
<circle cx="514.63" cy="526.55" r="1.45" fill="#999"/>
<circle cx="517.35" cy="527.24" r="1.45" fill="#999"/>
<circle cx="517.03" cy="525.12" r="1.45" fill="#999"/>
<circle cx="524.93" cy="526.88" r="1.45" fill="#999"/>
<circle cx="517.03" cy="525.81" r="1.45" fill="#999"/>
<circle cx="521.49" cy="525.25" r="1.45" fill="#999"/>
<circle cx="519.19" cy="529.35" r="1.45" fill="#999"/>
<circle cx="516.48" cy="528.87" r="1.45" fill="#999"/>
<circle cx="519.93" cy="525.58" r="1.45" fill="#999"/>
<circle cx="521.75" cy="528.46" r="1.45" fill="#999"/>
<circle cx="519.1" cy="524.1" r="1.45" fill="#999"/>
<circle cx="521.27" cy="525.47" r="1.45" fill="#999"/>
<circle cx="515.82" cy="526.82" r="1.45" fill="#999"/>
<circle cx="520.74" cy="525.08" r="1.45" fill="#999"/>
<circle cx="524.03" cy="527.26" r="1.45" fill="#999"/>
<circle cx="521.69" cy="524.62" r="1.45" fill="#999"/>
<circle cx="521.9" cy="529.38" r="1.45" fill="#999"/>
<circle cx="516.42" cy="527.93" r="1.45" fill="#999"/>
<circle cx="516.95" cy="526.38" r="1.45" fill="#999"/>
<circle cx="516.31" cy="529.19" r="1.45" fill="#999"/>
<circle cx="521.58" cy="527.6" r="1.45" fill="#999"/>
<circle cx="522.84" cy="528" r="1.45" fill="#999"/>
<circle cx="519.52" cy="530.32" r="1.45" fill="#999"/>
<circle cx="519.95" cy="524.93" r="1.45" fill="#999"/>
<circle cx="515.45" cy="524.56" r="1.45" fill="#999"/>
<circle cx="523.48" cy="526.66" r="1.45" fill="#999"/>
<circle cx="520.42" cy="524.5" r="1.45" fill="#999"/>
<circle cx="516.14" cy="526.44" r="1.45" fill="#999"/>
<circle cx="521.8" cy="526.4" r="1.45" fill="#999"/>
<circle cx="516.03" cy="526.03" r="1.45" fill="#999"/>
<circle cx="520.94" cy="527.51" r="1.45" fill="#999"/>
<circle cx="519.08" cy="521.48" r="1.45" fill="#999"/>
<circle cx="521.87" cy="525.64" r="1.45" fill="#999"/>
<circle cx="520.97" cy="522.89" r="1.45" fill="#999"/>
<circle cx="514.57" cy="527.62" r="1.45" fill="#999"/>
<circle cx="515.57" cy="527.19" r="1.45" fill="#999"/>
<circle cx="516.31" cy="524.23" r="1.45" fill="#999"/>
<circle cx="521.6" cy="529.39" r="1.45" fill="#999"/>
<circle cx="519.69" cy="526.04" r="1.45" fill="#999"/>
<circle cx="514.47" cy="528.42" r="1.45" fill="#999"/>
<circle cx="513.89" cy="525.65" r="1.45" fill="#999"/>
<circle cx="518.46" cy="527.13" r="1.45" fill="#999"/>
<circle cx="518.22" cy="521.57" r="1.45" fill="#999"/>
<circle cx="521.83" cy="524.51" r="1.45" fill="#999"/>
<circle cx="517.71" cy="523.47" r="1.45" fill="#999"/>
<circle cx="518.57" cy="527.86" r="1.45" fill="#999"/>
<circle cx="519.68" cy="530.62" r="1.45" fill="#999"/>
<circle cx="515.57" cy="528.3" r="1.45" fill="#999"/>
<circle cx="517.53" cy="523.84" r="1.45" fill="#999"/>
<circle cx="515.17" cy="528.34" r="1.45" fill="#999"/>
<circle cx="514.15" cy="528.84" r="1.45" fill="#999"/>
<circle cx="514.49" cy="526.05" r="1.45" fill="#999"/>
<circle cx="515.12" cy="524.86" r="1.45" fill="#999"/>
<circle cx="515.45" cy="524.81" r="1.45" fill="#999"/>
<circle cx="519.17" cy="523.86" r="1.45" fill="#999"/>
<circle cx="539" cy="558.7" r="1.45" fill="#999"/>
<circle cx="539" cy="561.6" r="1.45" fill="#999"/>
<circle cx="538.7" cy="564.3" r="1.45" fill="#999"/>
<circle cx="539.2" cy="566.8" r="1.45" fill="#999"/>
<circle cx="533.88" cy="579.87" r="1.45" fill="#999"/>
<circle cx="542.24" cy="584.4" r="1.45" fill="#999"/>
<circle cx="539.43" cy="586.11" r="1.45" fill="#999"/>
<circle cx="539.65" cy="584.89" r="1.45" fill="#999"/>
<circle cx="541.9" cy="588.03" r="1.45" fill="#999"/>
<circle cx="537.03" cy="584.99" r="1.45" fill="#999"/>
<circle cx="535.11" cy="588.02" r="1.45" fill="#999"/>
<circle cx="540.89" cy="582.51" r="1.45" fill="#999"/>
<circle cx="542.9" cy="583.94" r="1.45" fill="#999"/>
<circle cx="538.57" cy="592.4" r="1.45" fill="#999"/>
<circle cx="540.1" cy="582.84" r="1.45" fill="#999"/>
<circle cx="540.86" cy="580.89" r="1.45" fill="#999"/>
<circle cx="538.91" cy="575.46" r="1.45" fill="#999"/>
<circle cx="540.1" cy="571.02" r="1.45" fill="#999"/>
<circle cx="542.27" cy="585.3" r="1.45" fill="#999"/>
<circle cx="538.37" cy="575.31" r="1.45" fill="#999"/>
<circle cx="544.18" cy="586.53" r="1.45" fill="#999"/>
<circle cx="541.25" cy="590.18" r="1.45" fill="#999"/>
<circle cx="538.72" cy="587.8" r="1.45" fill="#999"/>
<circle cx="534.2" cy="585.49" r="1.45" fill="#999"/>
<circle cx="538.87" cy="586.54" r="1.45" fill="#999"/>
<circle cx="534.22" cy="587.49" r="1.45" fill="#999"/>
<circle cx="538.67" cy="576.71" r="1.45" fill="#999"/>
<circle cx="538.51" cy="591.15" r="1.45" fill="#999"/>
<circle cx="537.77" cy="579.7" r="1.45" fill="#999"/>
<circle cx="538.93" cy="575.66" r="1.45" fill="#999"/>
<circle cx="538.73" cy="574.92" r="1.45" fill="#999"/>
<circle cx="539.52" cy="568.96" r="1.45" fill="#999"/>
<circle cx="536.55" cy="589.26" r="1.45" fill="#999"/>
<circle cx="538.71" cy="588.24" r="1.45" fill="#999"/>
<circle cx="540.58" cy="582.97" r="1.45" fill="#999"/>
<circle cx="539.37" cy="569.98" r="1.45" fill="#999"/>
<circle cx="534.3" cy="583.54" r="1.45" fill="#999"/>
<circle cx="540.02" cy="588.73" r="1.45" fill="#999"/>
<circle cx="540.3" cy="590.28" r="1.45" fill="#999"/>
<circle cx="543.37" cy="587.68" r="1.45" fill="#999"/>
<circle cx="540.72" cy="590.67" r="1.45" fill="#999"/>
<circle cx="540.95" cy="578.9" r="1.45" fill="#999"/>
<circle cx="540.75" cy="591.46" r="1.45" fill="#999"/>
<circle cx="539.48" cy="568.31" r="1.45" fill="#999"/>
<circle cx="533.06" cy="583.78" r="1.45" fill="#999"/>
<circle cx="534.06" cy="585.37" r="1.45" fill="#999"/>
<circle cx="539.52" cy="586.15" r="1.45" fill="#999"/>
<circle cx="534.9" cy="579.33" r="1.45" fill="#999"/>
<circle cx="536.91" cy="577.4" r="1.45" fill="#999"/>
<circle cx="538.04" cy="581.88" r="1.45" fill="#999"/>
<circle cx="535.89" cy="587.55" r="1.45" fill="#999"/>
<circle cx="538.64" cy="575.79" r="1.45" fill="#999"/>
<circle cx="541.54" cy="581.55" r="1.45" fill="#999"/>
<circle cx="537.37" cy="583.95" r="1.45" fill="#999"/>
<circle cx="535.6" cy="577.31" r="1.45" fill="#999"/>
<circle cx="541.22" cy="586.85" r="1.45" fill="#999"/>
<circle cx="539.65" cy="587.55" r="1.45" fill="#999"/>
<circle cx="538.83" cy="591.02" r="1.45" fill="#999"/>
<circle cx="535.28" cy="585.97" r="1.45" fill="#999"/>
<circle cx="534.15" cy="584.36" r="1.45" fill="#999"/>
<circle cx="540.15" cy="592.57" r="1.45" fill="#999"/>
<circle cx="541.45" cy="586.63" r="1.45" fill="#999"/>
<circle cx="538.28" cy="584.1" r="1.45" fill="#999"/>
<circle cx="536.11" cy="587.36" r="1.45" fill="#999"/>
<circle cx="542.55" cy="582.6" r="1.45" fill="#999"/>
<circle cx="542.2" cy="585.56" r="1.45" fill="#999"/>
<circle cx="535.87" cy="588.73" r="1.45" fill="#999"/>
<circle cx="538.41" cy="567.75" r="1.45" fill="#999"/>
<circle cx="539.8" cy="588.62" r="1.45" fill="#999"/>
<circle cx="538.59" cy="574.47" r="1.45" fill="#999"/>
<circle cx="538.77" cy="581.87" r="1.45" fill="#999"/>
<circle cx="540.92" cy="574.39" r="1.45" fill="#999"/>
<circle cx="543.24" cy="588.11" r="1.45" fill="#999"/>
<circle cx="535.42" cy="588.14" r="1.45" fill="#999"/>
<circle cx="543.42" cy="582.61" r="1.45" fill="#999"/>
<circle cx="542.59" cy="581.04" r="1.45" fill="#999"/>
<circle cx="541.72" cy="590.43" r="1.45" fill="#999"/>
<circle cx="536.68" cy="576.11" r="1.45" fill="#999"/>
<circle cx="537.67" cy="576.75" r="1.45" fill="#999"/>
<circle cx="542.87" cy="588.84" r="1.45" fill="#999"/>
<circle cx="538.87" cy="580.77" r="1.45" fill="#999"/>
<circle cx="542.07" cy="588.96" r="1.45" fill="#999"/>
<circle cx="533.48" cy="584.06" r="1.45" fill="#999"/>
<circle cx="539.3" cy="570.85" r="1.45" fill="#999"/>
<circle cx="539.06" cy="585.85" r="1.45" fill="#999"/>
<circle cx="543.85" cy="587.37" r="1.45" fill="#999"/>
<circle cx="537.15" cy="584.45" r="1.45" fill="#999"/>
<circle cx="537.13" cy="590.88" r="1.45" fill="#999"/>
<circle cx="542.01" cy="583.54" r="1.45" fill="#999"/>
<circle cx="540.08" cy="579.17" r="1.45" fill="#999"/>
<circle cx="544.64" cy="582.08" r="1.45" fill="#999"/>
<circle cx="536.16" cy="583.46" r="1.45" fill="#999"/>
<circle cx="536.88" cy="579.12" r="1.45" fill="#999"/>
<circle cx="540.4" cy="585.89" r="1.45" fill="#999"/>
<circle cx="534.29" cy="579.46" r="1.45" fill="#999"/>
<circle cx="534.43" cy="581.06" r="1.45" fill="#999"/>
<circle cx="543.51" cy="578.87" r="1.45" fill="#999"/>
<circle cx="535.17" cy="579.74" r="1.45" fill="#999"/>
<circle cx="544.68" cy="585.48" r="1.45" fill="#999"/>
<circle cx="537.11" cy="589.47" r="1.45" fill="#999"/>
<circle cx="539.52" cy="581.32" r="1.45" fill="#999"/>
<circle cx="542.36" cy="590.04" r="1.45" fill="#999"/>
<circle cx="541.8" cy="585.82" r="1.45" fill="#999"/>
<circle cx="532.79" cy="584.37" r="1.45" fill="#999"/>
<circle cx="539.26" cy="589.91" r="1.45" fill="#999"/>
<circle cx="537.37" cy="571.84" r="1.45" fill="#999"/>
<circle cx="539.72" cy="571.43" r="1.45" fill="#999"/>
<circle cx="535.71" cy="585.41" r="1.45" fill="#999"/>
<circle cx="534.43" cy="586.07" r="1.45" fill="#999"/>
<circle cx="536.71" cy="589.81" r="1.45" fill="#999"/>
<circle cx="540.83" cy="581.45" r="1.45" fill="#999"/>
<circle cx="540.32" cy="582.41" r="1.45" fill="#999"/>
<circle cx="535.84" cy="583.92" r="1.45" fill="#999"/>
<circle cx="538.28" cy="575.17" r="1.45" fill="#999"/>
<circle cx="537.53" cy="590.35" r="1.45" fill="#999"/>
<circle cx="541.08" cy="584.07" r="1.45" fill="#999"/>
<circle cx="534.77" cy="580.45" r="1.45" fill="#999"/>
<circle cx="536.11" cy="578.68" r="1.45" fill="#999"/>
<circle cx="537.87" cy="574.21" r="1.45" fill="#999"/>
<circle cx="539.54" cy="575.39" r="1.45" fill="#999"/>
<circle cx="538.95" cy="586.39" r="1.45" fill="#999"/>
<circle cx="537.05" cy="573.63" r="1.45" fill="#999"/>
<circle cx="544.11" cy="583.85" r="1.45" fill="#999"/>
<circle cx="538.7" cy="570.95" r="1.45" fill="#999"/>
<circle cx="536.68" cy="579.96" r="1.45" fill="#999"/>
<circle cx="537.63" cy="571.97" r="1.45" fill="#999"/>
<circle cx="540.19" cy="575.85" r="1.45" fill="#999"/>
<circle cx="536.8" cy="583.11" r="1.45" fill="#999"/>
<circle cx="534.98" cy="583.17" r="1.45" fill="#999"/>
<circle cx="538.55" cy="571.05" r="1.45" fill="#999"/>
<circle cx="540.1" cy="581.88" r="1.45" fill="#999"/>
<circle cx="544.05" cy="582.7" r="1.45" fill="#999"/>
<circle cx="537.87" cy="586.3" r="1.45" fill="#999"/>
<circle cx="540.74" cy="582.21" r="1.45" fill="#999"/>
<circle cx="538.99" cy="590.52" r="1.45" fill="#999"/>
<circle cx="540.52" cy="577.11" r="1.45" fill="#999"/>
<circle cx="537.41" cy="577.99" r="1.45" fill="#999"/>
<circle cx="534.18" cy="582.53" r="1.45" fill="#999"/>
<circle cx="539.52" cy="590.17" r="1.45" fill="#999"/>
<circle cx="536.9" cy="584.77" r="1.45" fill="#999"/>
<circle cx="540.7" cy="582.98" r="1.45" fill="#999"/>
<circle cx="545.06" cy="583.81" r="1.45" fill="#999"/>
<circle cx="537.47" cy="580.64" r="1.45" fill="#999"/>
<circle cx="539.46" cy="584.1" r="1.45" fill="#999"/>
<circle cx="543.12" cy="588.65" r="1.45" fill="#999"/>
<circle cx="541.63" cy="588.19" r="1.45" fill="#999"/>
<circle cx="534.94" cy="583.29" r="1.45" fill="#999"/>
<circle cx="535.05" cy="589.12" r="1.45" fill="#999"/>
<circle cx="534.62" cy="587.98" r="1.45" fill="#999"/>
<circle cx="544.17" cy="581.83" r="1.45" fill="#999"/>
<circle cx="543.88" cy="579.5" r="1.45" fill="#999"/>
<circle cx="538.25" cy="570.31" r="1.45" fill="#999"/>
<circle cx="538.13" cy="576.6" r="1.45" fill="#999"/>
<circle cx="536.66" cy="586.77" r="1.45" fill="#999"/>
<circle cx="574.26" cy="527.87" r="1.45" fill="#999"/>
<circle cx="572.88" cy="528.15" r="1.45" fill="#999"/>
<circle cx="572.55" cy="526.17" r="1.45" fill="#999"/>
<circle cx="569.98" cy="531.24" r="1.45" fill="#999"/>
<circle cx="573.76" cy="529.9" r="1.45" fill="#999"/>
<circle cx="569.27" cy="527.64" r="1.45" fill="#999"/>
<circle cx="573.39" cy="529.98" r="1.45" fill="#999"/>
<circle cx="571.9" cy="526.12" r="1.45" fill="#999"/>
<circle cx="570.54" cy="530.26" r="1.45" fill="#999"/>
<circle cx="570.26" cy="529.62" r="1.45" fill="#999"/>
<circle cx="569.88" cy="531.02" r="1.45" fill="#999"/>
<circle cx="577.59" cy="529.55" r="1.45" fill="#999"/>
<circle cx="578.5" cy="530.59" r="1.45" fill="#999"/>
<circle cx="572.67" cy="530.77" r="1.45" fill="#999"/>
<circle cx="577.18" cy="530.82" r="1.45" fill="#999"/>
<circle cx="573.7" cy="527.8" r="1.45" fill="#999"/>
<circle cx="577.13" cy="529.59" r="1.45" fill="#999"/>
<circle cx="575.27" cy="530.15" r="1.45" fill="#999"/>
<circle cx="571.61" cy="531.21" r="1.45" fill="#999"/>
<circle cx="572.33" cy="530.18" r="1.45" fill="#999"/>
<circle cx="570.12" cy="526.83" r="1.45" fill="#999"/>
<circle cx="569.86" cy="530.85" r="1.45" fill="#999"/>
<circle cx="576.81" cy="529.38" r="1.45" fill="#999"/>
<circle cx="572.05" cy="531.49" r="1.45" fill="#999"/>
<circle cx="571.05" cy="532.12" r="1.45" fill="#999"/>
<circle cx="572.68" cy="527.25" r="1.45" fill="#999"/>
<circle cx="566.51" cy="529.65" r="1.45" fill="#999"/>
<circle cx="573.52" cy="528.51" r="1.45" fill="#999"/>
<circle cx="574.94" cy="529.15" r="1.45" fill="#999"/>
<circle cx="576.25" cy="530.93" r="1.45" fill="#999"/>
<circle cx="568.62" cy="528.33" r="1.45" fill="#999"/>
<circle cx="567.43" cy="529.95" r="1.45" fill="#999"/>
<circle cx="571.64" cy="527.1" r="1.45" fill="#999"/>
<circle cx="571.83" cy="526.05" r="1.45" fill="#999"/>
<circle cx="569.7" cy="529.81" r="1.45" fill="#999"/>
<circle cx="569.04" cy="528.03" r="1.45" fill="#999"/>
<circle cx="568.04" cy="528.82" r="1.45" fill="#999"/>
<circle cx="575.46" cy="526.78" r="1.45" fill="#999"/>
<circle cx="573.33" cy="529.24" r="1.45" fill="#999"/>
<circle cx="571.19" cy="530.36" r="1.45" fill="#999"/>
<circle cx="570.7" cy="529.27" r="1.45" fill="#999"/>
<circle cx="575.43" cy="531.1" r="1.45" fill="#999"/>
<circle cx="571.68" cy="527.22" r="1.45" fill="#999"/>
<circle cx="572.33" cy="525.89" r="1.45" fill="#999"/>
<circle cx="571.26" cy="532.1" r="1.45" fill="#999"/>
<circle cx="570.5" cy="527.22" r="1.45" fill="#999"/>
<circle cx="577.05" cy="529.88" r="1.45" fill="#999"/>
<circle cx="576.3" cy="528.91" r="1.45" fill="#999"/>
<circle cx="569.02" cy="530.73" r="1.45" fill="#999"/>
<circle cx="576.27" cy="530.99" r="1.45" fill="#999"/>
<circle cx="568.36" cy="530.56" r="1.45" fill="#999"/>
<circle cx="576.38" cy="531.1" r="1.45" fill="#999"/>
<circle cx="569.11" cy="528.05" r="1.45" fill="#999"/>
<circle cx="578.15" cy="530.05" r="1.45" fill="#999"/>
<circle cx="570.26" cy="531.24" r="1.45" fill="#999"/>
<circle cx="573.6" cy="527.66" r="1.45" fill="#999"/>
<circle cx="569.59" cy="527.44" r="1.45" fill="#999"/>
<circle cx="572.5" cy="531.8" r="1.45" fill="#999"/>
<circle cx="571.79" cy="529.61" r="1.45" fill="#999"/>
<circle cx="573.02" cy="531.85" r="1.45" fill="#999"/>
<circle cx="572.07" cy="529.21" r="1.45" fill="#999"/>
<circle cx="574.75" cy="526.93" r="1.45" fill="#999"/>
<circle cx="574.2" cy="526.85" r="1.45" fill="#999"/>
<circle cx="573.03" cy="529.43" r="1.45" fill="#999"/>
<circle cx="567.82" cy="529.42" r="1.45" fill="#999"/>
<circle cx="569.96" cy="529.45" r="1.45" fill="#999"/>
<circle cx="573.52" cy="530.87" r="1.45" fill="#999"/>
<circle cx="572.14" cy="530.79" r="1.45" fill="#999"/>
<circle cx="572.95" cy="529.8" r="1.45" fill="#999"/>
<circle cx="573.2" cy="530.34" r="1.45" fill="#999"/>
<circle cx="592.77" cy="536.74" r="1.45" fill="#999"/>
<circle cx="592.77" cy="540.97" r="1.45" fill="#999"/>
<circle cx="587.69" cy="545.54" r="1.45" fill="#999"/>
<circle cx="590.23" cy="545.2" r="1.45" fill="#999"/>
<circle cx="592.77" cy="545.88" r="1.45" fill="#999"/>
<circle cx="595.31" cy="545.2" r="1.45" fill="#999"/>
<circle cx="597.85" cy="545.71" r="1.45" fill="#999"/>
<circle cx="590.23" cy="548.25" r="1.45" fill="#999"/>
<circle cx="595.48" cy="548.59" r="1.45" fill="#999"/>
<circle cx="592.77" cy="551.46" r="1.45" fill="#999"/>
<circle cx="588.54" cy="555.35" r="1.45" fill="#999"/>
<circle cx="591.08" cy="555.69" r="1.45" fill="#999"/>
<circle cx="594.46" cy="555.19" r="1.45" fill="#999"/>
<circle cx="597" cy="555.69" r="1.45" fill="#999"/>
<circle cx="587.69" cy="560.77" r="1.45" fill="#999"/>
<circle cx="590.23" cy="560.43" r="1.45" fill="#999"/>
<circle cx="592.77" cy="560.26" r="1.45" fill="#999"/>
<circle cx="595.31" cy="560.6" r="1.45" fill="#999"/>
<circle cx="597.85" cy="560.94" r="1.45" fill="#999"/>
<circle cx="589.39" cy="565" r="1.45" fill="#999"/>
<circle cx="592.77" cy="564.49" r="1.45" fill="#999"/>
<circle cx="596.16" cy="565.17" r="1.45" fill="#999"/>
<circle cx="591.08" cy="568.39" r="1.45" fill="#999"/>
<circle cx="594.46" cy="568.05" r="1.45" fill="#999"/>
<circle cx="597.17" cy="568.55" r="1.45" fill="#999"/>
<circle cx="589.39" cy="571.77" r="1.45" fill="#999"/>
<circle cx="592.77" cy="572.11" r="1.45" fill="#999"/>
<circle cx="596.16" cy="571.6" r="1.45" fill="#999"/>
<circle cx="591.08" cy="575.15" r="1.45" fill="#999"/>
<circle cx="594.63" cy="575.32" r="1.45" fill="#999"/>
<circle cx="590.23" cy="578.54" r="1.45" fill="#999"/>
<circle cx="593.62" cy="578.2" r="1.45" fill="#999"/>
<circle cx="596.16" cy="578.71" r="1.45" fill="#999"/>
<circle cx="591.92" cy="581.92" r="1.45" fill="#999"/>
<circle cx="594.63" cy="581.75" r="1.45" fill="#999"/>
<circle cx="592.77" cy="584.63" r="1.45" fill="#999"/>
<circle cx="592.77" cy="590.39" r="1.45" fill="#999"/>
<circle cx="588.2" cy="550.62" r="1.45" fill="#999"/>
<circle cx="597.51" cy="550.62" r="1.45" fill="#999"/>
<circle cx="587.69" cy="567.54" r="1.45" fill="#999"/>
<circle cx="597.85" cy="564.49" r="1.45" fill="#999"/>
<circle cx="589.05" cy="575.66" r="1.45" fill="#999"/>
</svg>
</body></html>
